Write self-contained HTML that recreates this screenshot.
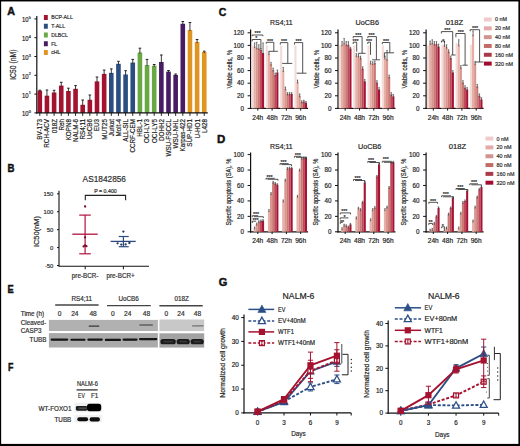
<!DOCTYPE html>
<html><head><meta charset="utf-8"><style>
html,body{margin:0;padding:0;background:#fff;}
#c{position:relative;width:520px;height:446px;overflow:hidden;background:#fff;}
svg{position:absolute;left:0;top:0;font-family:"Liberation Sans", sans-serif;}
text{stroke:#222;stroke-width:0.18px;}
#b{position:absolute;left:0;top:0;width:520px;height:446px;box-sizing:border-box;border-style:solid;border-color:#000;border-width:1px 1.6px 2px 1.1px;}
</style></head><body><div id="c">
<svg width="520" height="446" viewBox="0 0 520 446">
<defs><filter id="bl" x="-20%" y="-100%" width="140%" height="300%"><feGaussianBlur stdDeviation="0.4"/></filter><filter id="bl2" x="-20%" y="-100%" width="140%" height="300%"><feGaussianBlur stdDeviation="0.55"/></filter></defs>
<text x="7.30" y="15.40" text-anchor="start" fill="#111" style="font-size:10.9px;font-weight:bold;stroke-width:0.45px;stroke:#111;"  textLength="7.7" lengthAdjust="spacingAndGlyphs">A</text>
<line x1="36.80" y1="16.00" x2="36.80" y2="113.40" stroke="#111" stroke-width="1.2"/>
<line x1="34.40" y1="112.90" x2="36.80" y2="112.90" stroke="#111" stroke-width="1"/>
<text x="21.90" y="116.30" text-anchor="start" fill="#222" style="font-size:6.6px;"  textLength="6.6" lengthAdjust="spacingAndGlyphs">10</text>
<text x="28.70" y="113.00" text-anchor="start" fill="#222" style="font-size:3.9px;" >0</text>
<line x1="34.40" y1="94.10" x2="36.80" y2="94.10" stroke="#111" stroke-width="1"/>
<text x="21.90" y="97.50" text-anchor="start" fill="#222" style="font-size:6.6px;"  textLength="6.6" lengthAdjust="spacingAndGlyphs">10</text>
<text x="28.70" y="94.20" text-anchor="start" fill="#222" style="font-size:3.9px;" >1</text>
<line x1="34.40" y1="75.30" x2="36.80" y2="75.30" stroke="#111" stroke-width="1"/>
<text x="21.90" y="78.70" text-anchor="start" fill="#222" style="font-size:6.6px;"  textLength="6.6" lengthAdjust="spacingAndGlyphs">10</text>
<text x="28.70" y="75.40" text-anchor="start" fill="#222" style="font-size:3.9px;" >2</text>
<line x1="34.40" y1="56.50" x2="36.80" y2="56.50" stroke="#111" stroke-width="1"/>
<text x="21.90" y="59.90" text-anchor="start" fill="#222" style="font-size:6.6px;"  textLength="6.6" lengthAdjust="spacingAndGlyphs">10</text>
<text x="28.70" y="56.60" text-anchor="start" fill="#222" style="font-size:3.9px;" >3</text>
<line x1="34.40" y1="37.70" x2="36.80" y2="37.70" stroke="#111" stroke-width="1"/>
<text x="21.90" y="41.10" text-anchor="start" fill="#222" style="font-size:6.6px;"  textLength="6.6" lengthAdjust="spacingAndGlyphs">10</text>
<text x="28.70" y="37.80" text-anchor="start" fill="#222" style="font-size:3.9px;" >4</text>
<line x1="34.40" y1="18.90" x2="36.80" y2="18.90" stroke="#111" stroke-width="1"/>
<text x="21.90" y="22.30" text-anchor="start" fill="#222" style="font-size:6.6px;"  textLength="6.6" lengthAdjust="spacingAndGlyphs">10</text>
<text x="28.70" y="19.00" text-anchor="start" fill="#222" style="font-size:3.9px;" >5</text>
<text transform="translate(16.10,64.70) rotate(-90)" text-anchor="middle" fill="#222" style="font-size:8.3px;"  textLength="30.3" lengthAdjust="spacingAndGlyphs">IC50 (nM)</text>
<rect x="43.90" y="15.00" width="3.90" height="5.00" fill="#a3132f" />
<text x="51.20" y="19.40" text-anchor="start" fill="#333" style="font-size:5.2px;" >BCP-ALL</text>
<rect x="43.90" y="23.75" width="3.90" height="5.00" fill="#2b4e80" />
<text x="51.20" y="28.15" text-anchor="start" fill="#333" style="font-size:5.2px;" >T-ALL</text>
<rect x="43.90" y="32.50" width="3.90" height="5.00" fill="#6aa845" />
<text x="51.20" y="36.90" text-anchor="start" fill="#333" style="font-size:5.2px;" >DLBCL</text>
<rect x="43.90" y="41.25" width="3.90" height="5.00" fill="#481c62" />
<text x="51.20" y="45.65" text-anchor="start" fill="#333" style="font-size:5.2px;" >FL</text>
<rect x="43.90" y="50.00" width="3.90" height="5.00" fill="#df951f" />
<text x="51.20" y="54.40" text-anchor="start" fill="#333" style="font-size:5.2px;" >cHL</text>
<rect x="37.50" y="90.70" width="4.60" height="22.20" fill="#a3132f" />
<line x1="39.80" y1="91.70" x2="39.80" y2="90.20" stroke="#222" stroke-width="0.9"/>
<line x1="38.50" y1="90.20" x2="41.10" y2="90.20" stroke="#222" stroke-width="1.0"/>
<line x1="39.80" y1="112.90" x2="39.80" y2="115.90" stroke="#111" stroke-width="0.9"/>
<text transform="translate(42.20,119.00) rotate(-90)" text-anchor="end" fill="#222" style="font-size:6.3px;" >BV-173</text>
<rect x="44.65" y="95.70" width="4.60" height="17.20" fill="#a3132f" />
<line x1="46.95" y1="96.70" x2="46.95" y2="90.00" stroke="#222" stroke-width="0.9"/>
<line x1="45.65" y1="90.00" x2="48.25" y2="90.00" stroke="#222" stroke-width="1.0"/>
<line x1="46.95" y1="112.90" x2="46.95" y2="115.90" stroke="#111" stroke-width="0.9"/>
<text transform="translate(49.35,119.00) rotate(-90)" text-anchor="end" fill="#222" style="font-size:6.3px;" >RCH-ACV</text>
<rect x="51.80" y="92.50" width="4.60" height="20.40" fill="#a3132f" />
<line x1="54.10" y1="93.50" x2="54.10" y2="90.30" stroke="#222" stroke-width="0.9"/>
<line x1="52.80" y1="90.30" x2="55.40" y2="90.30" stroke="#222" stroke-width="1.0"/>
<line x1="54.10" y1="112.90" x2="54.10" y2="115.90" stroke="#111" stroke-width="0.9"/>
<text transform="translate(56.50,119.00) rotate(-90)" text-anchor="end" fill="#222" style="font-size:6.3px;" >018Z</text>
<rect x="58.95" y="85.60" width="4.60" height="27.30" fill="#a3132f" />
<line x1="61.25" y1="86.60" x2="61.25" y2="82.30" stroke="#222" stroke-width="0.9"/>
<line x1="59.95" y1="82.30" x2="62.55" y2="82.30" stroke="#222" stroke-width="1.0"/>
<line x1="61.25" y1="112.90" x2="61.25" y2="115.90" stroke="#111" stroke-width="0.9"/>
<text transform="translate(63.65,119.00) rotate(-90)" text-anchor="end" fill="#222" style="font-size:6.3px;" >Reh</text>
<rect x="66.10" y="91.00" width="4.60" height="21.90" fill="#a3132f" />
<line x1="68.40" y1="92.00" x2="68.40" y2="88.20" stroke="#222" stroke-width="0.9"/>
<line x1="67.10" y1="88.20" x2="69.70" y2="88.20" stroke="#222" stroke-width="1.0"/>
<line x1="68.40" y1="112.90" x2="68.40" y2="115.90" stroke="#111" stroke-width="0.9"/>
<text transform="translate(70.80,119.00) rotate(-90)" text-anchor="end" fill="#222" style="font-size:6.3px;" >KOPN8</text>
<rect x="73.25" y="88.80" width="4.60" height="24.10" fill="#a3132f" />
<line x1="75.55" y1="89.80" x2="75.55" y2="85.60" stroke="#222" stroke-width="0.9"/>
<line x1="74.25" y1="85.60" x2="76.85" y2="85.60" stroke="#222" stroke-width="1.0"/>
<line x1="75.55" y1="112.90" x2="75.55" y2="115.90" stroke="#111" stroke-width="0.9"/>
<text transform="translate(77.95,119.00) rotate(-90)" text-anchor="end" fill="#222" style="font-size:6.3px;" >NALM-6</text>
<rect x="80.40" y="104.80" width="4.60" height="8.10" fill="#a3132f" />
<line x1="82.70" y1="105.80" x2="82.70" y2="100.00" stroke="#222" stroke-width="0.9"/>
<line x1="81.40" y1="100.00" x2="84.00" y2="100.00" stroke="#222" stroke-width="1.0"/>
<line x1="82.70" y1="112.90" x2="82.70" y2="115.90" stroke="#111" stroke-width="0.9"/>
<text transform="translate(85.10,119.00) rotate(-90)" text-anchor="end" fill="#222" style="font-size:6.3px;" >RS4;11</text>
<rect x="87.55" y="99.80" width="4.60" height="13.10" fill="#a3132f" />
<line x1="89.85" y1="100.80" x2="89.85" y2="95.00" stroke="#222" stroke-width="0.9"/>
<line x1="88.55" y1="95.00" x2="91.15" y2="95.00" stroke="#222" stroke-width="1.0"/>
<line x1="89.85" y1="112.90" x2="89.85" y2="115.90" stroke="#111" stroke-width="0.9"/>
<text transform="translate(92.25,119.00) rotate(-90)" text-anchor="end" fill="#222" style="font-size:6.3px;" >UoCB6</text>
<rect x="94.70" y="81.40" width="4.60" height="31.50" fill="#a3132f" />
<line x1="97.00" y1="82.40" x2="97.00" y2="77.00" stroke="#222" stroke-width="0.9"/>
<line x1="95.70" y1="77.00" x2="98.30" y2="77.00" stroke="#222" stroke-width="1.0"/>
<line x1="97.00" y1="112.90" x2="97.00" y2="115.90" stroke="#111" stroke-width="0.9"/>
<text transform="translate(99.40,119.00) rotate(-90)" text-anchor="end" fill="#222" style="font-size:6.3px;" >EU3</text>
<rect x="101.85" y="73.90" width="4.60" height="39.00" fill="#a3132f" />
<line x1="104.15" y1="74.90" x2="104.15" y2="70.10" stroke="#222" stroke-width="0.9"/>
<line x1="102.85" y1="70.10" x2="105.45" y2="70.10" stroke="#222" stroke-width="1.0"/>
<line x1="104.15" y1="112.90" x2="104.15" y2="115.90" stroke="#111" stroke-width="0.9"/>
<text transform="translate(106.55,119.00) rotate(-90)" text-anchor="end" fill="#222" style="font-size:6.3px;" >MUT25</text>
<rect x="109.00" y="72.90" width="4.60" height="40.00" fill="#2b4e80" />
<line x1="111.30" y1="73.90" x2="111.30" y2="68.90" stroke="#222" stroke-width="0.9"/>
<line x1="110.00" y1="68.90" x2="112.60" y2="68.90" stroke="#222" stroke-width="1.0"/>
<line x1="111.30" y1="112.90" x2="111.30" y2="115.90" stroke="#111" stroke-width="0.9"/>
<text transform="translate(113.70,119.00) rotate(-90)" text-anchor="end" fill="#222" style="font-size:6.3px;" >Jurkat</text>
<rect x="116.15" y="63.80" width="4.60" height="49.10" fill="#2b4e80" />
<line x1="118.45" y1="64.80" x2="118.45" y2="61.30" stroke="#222" stroke-width="0.9"/>
<line x1="117.15" y1="61.30" x2="119.75" y2="61.30" stroke="#222" stroke-width="1.0"/>
<line x1="118.45" y1="112.90" x2="118.45" y2="115.90" stroke="#111" stroke-width="0.9"/>
<text transform="translate(120.85,119.00) rotate(-90)" text-anchor="end" fill="#222" style="font-size:6.3px;" >Molt-4</text>
<rect x="123.30" y="74.50" width="4.60" height="38.40" fill="#2b4e80" />
<line x1="125.60" y1="75.50" x2="125.60" y2="70.70" stroke="#222" stroke-width="0.9"/>
<line x1="124.30" y1="70.70" x2="126.90" y2="70.70" stroke="#222" stroke-width="1.0"/>
<line x1="125.60" y1="112.90" x2="125.60" y2="115.90" stroke="#111" stroke-width="0.9"/>
<text transform="translate(128.00,119.00) rotate(-90)" text-anchor="end" fill="#222" style="font-size:6.3px;" >ALL-SIL</text>
<rect x="130.45" y="62.60" width="4.60" height="50.30" fill="#2b4e80" />
<line x1="132.75" y1="63.60" x2="132.75" y2="59.40" stroke="#222" stroke-width="0.9"/>
<line x1="131.45" y1="59.40" x2="134.05" y2="59.40" stroke="#222" stroke-width="1.0"/>
<line x1="132.75" y1="112.90" x2="132.75" y2="115.90" stroke="#111" stroke-width="0.9"/>
<text transform="translate(135.15,119.00) rotate(-90)" text-anchor="end" fill="#222" style="font-size:6.3px;" >CCRF-CEM</text>
<rect x="137.60" y="52.50" width="4.60" height="60.40" fill="#6aa845" />
<line x1="139.90" y1="53.50" x2="139.90" y2="48.20" stroke="#222" stroke-width="0.9"/>
<line x1="138.60" y1="48.20" x2="141.20" y2="48.20" stroke="#222" stroke-width="1.0"/>
<line x1="139.90" y1="112.90" x2="139.90" y2="115.90" stroke="#111" stroke-width="0.9"/>
<text transform="translate(142.30,119.00) rotate(-90)" text-anchor="end" fill="#222" style="font-size:6.3px;" >HBL-1</text>
<rect x="144.75" y="65.10" width="4.60" height="47.80" fill="#6aa845" />
<line x1="147.05" y1="66.10" x2="147.05" y2="59.40" stroke="#222" stroke-width="0.9"/>
<line x1="145.75" y1="59.40" x2="148.35" y2="59.40" stroke="#222" stroke-width="1.0"/>
<line x1="147.05" y1="112.90" x2="147.05" y2="115.90" stroke="#111" stroke-width="0.9"/>
<text transform="translate(149.45,119.00) rotate(-90)" text-anchor="end" fill="#222" style="font-size:6.3px;" >OCI-LY3</text>
<rect x="151.90" y="65.70" width="4.60" height="47.20" fill="#6aa845" />
<line x1="154.20" y1="66.70" x2="154.20" y2="64.50" stroke="#222" stroke-width="0.9"/>
<line x1="152.90" y1="64.50" x2="155.50" y2="64.50" stroke="#222" stroke-width="1.0"/>
<line x1="154.20" y1="112.90" x2="154.20" y2="115.90" stroke="#111" stroke-width="0.9"/>
<text transform="translate(156.60,119.00) rotate(-90)" text-anchor="end" fill="#222" style="font-size:6.3px;" >OCI-LY5</text>
<rect x="159.05" y="62.00" width="4.60" height="50.90" fill="#481c62" />
<line x1="161.35" y1="63.00" x2="161.35" y2="55.00" stroke="#222" stroke-width="0.9"/>
<line x1="160.05" y1="55.00" x2="162.65" y2="55.00" stroke="#222" stroke-width="1.0"/>
<line x1="161.35" y1="112.90" x2="161.35" y2="115.90" stroke="#111" stroke-width="0.9"/>
<text transform="translate(163.75,119.00) rotate(-90)" text-anchor="end" fill="#222" style="font-size:6.3px;" >DOHH2</text>
<rect x="166.20" y="71.60" width="4.60" height="41.30" fill="#481c62" />
<line x1="168.50" y1="72.60" x2="168.50" y2="70.50" stroke="#222" stroke-width="0.9"/>
<line x1="167.20" y1="70.50" x2="169.80" y2="70.50" stroke="#222" stroke-width="1.0"/>
<line x1="168.50" y1="112.90" x2="168.50" y2="115.90" stroke="#111" stroke-width="0.9"/>
<text transform="translate(170.90,119.00) rotate(-90)" text-anchor="end" fill="#222" style="font-size:6.3px;" >WSU-FSCCL</text>
<rect x="173.35" y="74.90" width="4.60" height="38.00" fill="#481c62" />
<line x1="175.65" y1="75.90" x2="175.65" y2="74.00" stroke="#222" stroke-width="0.9"/>
<line x1="174.35" y1="74.00" x2="176.95" y2="74.00" stroke="#222" stroke-width="1.0"/>
<line x1="175.65" y1="112.90" x2="175.65" y2="115.90" stroke="#111" stroke-width="0.9"/>
<text transform="translate(178.05,119.00) rotate(-90)" text-anchor="end" fill="#222" style="font-size:6.3px;" >WSU-NHL</text>
<rect x="180.50" y="23.80" width="4.60" height="89.10" fill="#481c62" />
<line x1="182.80" y1="24.80" x2="182.80" y2="21.50" stroke="#222" stroke-width="0.9"/>
<line x1="181.50" y1="21.50" x2="184.10" y2="21.50" stroke="#222" stroke-width="1.0"/>
<line x1="182.80" y1="112.90" x2="182.80" y2="115.90" stroke="#111" stroke-width="0.9"/>
<text transform="translate(185.20,119.00) rotate(-90)" text-anchor="end" fill="#222" style="font-size:6.3px;" >Karpas-422</text>
<rect x="187.65" y="30.00" width="4.60" height="82.90" fill="#df951f" />
<line x1="189.95" y1="31.00" x2="189.95" y2="22.50" stroke="#222" stroke-width="0.9"/>
<line x1="188.65" y1="22.50" x2="191.25" y2="22.50" stroke="#222" stroke-width="1.0"/>
<line x1="189.95" y1="112.90" x2="189.95" y2="115.90" stroke="#111" stroke-width="0.9"/>
<text transform="translate(192.35,119.00) rotate(-90)" text-anchor="end" fill="#222" style="font-size:6.3px;" >SUP-HD1</text>
<rect x="194.80" y="42.00" width="4.60" height="70.90" fill="#df951f" />
<line x1="197.10" y1="43.00" x2="197.10" y2="39.50" stroke="#222" stroke-width="0.9"/>
<line x1="195.80" y1="39.50" x2="198.40" y2="39.50" stroke="#222" stroke-width="1.0"/>
<line x1="197.10" y1="112.90" x2="197.10" y2="115.90" stroke="#111" stroke-width="0.9"/>
<text transform="translate(199.50,119.00) rotate(-90)" text-anchor="end" fill="#222" style="font-size:6.3px;" >U-HO1</text>
<rect x="201.95" y="52.00" width="4.60" height="60.90" fill="#df951f" />
<line x1="204.25" y1="53.00" x2="204.25" y2="51.20" stroke="#222" stroke-width="0.9"/>
<line x1="202.95" y1="51.20" x2="205.55" y2="51.20" stroke="#222" stroke-width="1.0"/>
<line x1="204.25" y1="112.90" x2="204.25" y2="115.90" stroke="#111" stroke-width="0.9"/>
<text transform="translate(206.65,119.00) rotate(-90)" text-anchor="end" fill="#222" style="font-size:6.3px;" >L428</text>
<line x1="36.00" y1="112.90" x2="207.80" y2="112.90" stroke="#111" stroke-width="1.2"/>
<text x="7.40" y="171.50" text-anchor="start" fill="#111" style="font-size:10.9px;font-weight:bold;stroke-width:0.45px;stroke:#111;"  textLength="7.0" lengthAdjust="spacingAndGlyphs">B</text>
<text x="104.30" y="182.20" text-anchor="middle" fill="#333" style="font-size:8.3px;" >AS1842856</text>
<line x1="59.00" y1="190.70" x2="59.00" y2="266.30" stroke="#111" stroke-width="1.1"/>
<line x1="57.00" y1="193.79" x2="59.00" y2="193.79" stroke="#111" stroke-width="1"/>
<text x="53.40" y="195.89" text-anchor="end" fill="#333" style="font-size:5.9px;" >150</text>
<line x1="57.00" y1="211.73" x2="59.00" y2="211.73" stroke="#111" stroke-width="1"/>
<text x="53.40" y="213.83" text-anchor="end" fill="#333" style="font-size:5.9px;" >100</text>
<line x1="57.00" y1="229.66" x2="59.00" y2="229.66" stroke="#111" stroke-width="1"/>
<text x="53.40" y="231.76" text-anchor="end" fill="#333" style="font-size:5.9px;" >50</text>
<line x1="57.00" y1="247.60" x2="59.00" y2="247.60" stroke="#111" stroke-width="1"/>
<text x="53.40" y="249.70" text-anchor="end" fill="#333" style="font-size:5.9px;" >0</text>
<line x1="57.00" y1="265.53" x2="59.00" y2="265.53" stroke="#111" stroke-width="1"/>
<text x="53.40" y="267.63" text-anchor="end" fill="#333" style="font-size:5.9px;" >-50</text>
<text transform="translate(38.80,231.60) rotate(-90)" text-anchor="middle" fill="#222" style="font-size:7.4px;"  textLength="31.0" lengthAdjust="spacingAndGlyphs">IC50(nM)</text>
<line x1="58.50" y1="266.30" x2="149.00" y2="266.30" stroke="#111" stroke-width="1.1"/>
<line x1="85.20" y1="266.30" x2="85.20" y2="269.30" stroke="#111" stroke-width="1"/>
<line x1="123.40" y1="266.30" x2="123.40" y2="269.30" stroke="#111" stroke-width="1"/>
<text x="85.10" y="278.40" text-anchor="middle" fill="#333" style="font-size:6.3px;" >pre-BCR-</text>
<text x="120.60" y="278.40" text-anchor="middle" fill="#333" style="font-size:6.3px;" >pre-BCR+</text>
<polyline points="85.30,200.20 85.30,195.40 125.60,195.40 125.60,200.20" fill="none" stroke="#222" stroke-width="1.1"/>
<text x="105.50" y="193.10" text-anchor="middle" fill="#333" style="font-size:5.0px;"  textLength="22.5" lengthAdjust="spacingAndGlyphs">P = 0.400</text>
<line x1="85.10" y1="215.10" x2="85.10" y2="253.80" stroke="#b0123e" stroke-width="1.2"/>
<line x1="79.20" y1="215.10" x2="90.80" y2="215.10" stroke="#b0123e" stroke-width="1.2"/>
<line x1="79.20" y1="253.80" x2="90.80" y2="253.80" stroke="#b0123e" stroke-width="1.2"/>
<line x1="72.30" y1="234.20" x2="97.70" y2="234.20" stroke="#b0123e" stroke-width="1.3"/>
<circle cx="85.1" cy="206.5" r="1.15" fill="#7a0a26"/>
<circle cx="85.1" cy="237.3" r="1.15" fill="#7a0a26"/>
<circle cx="83.6" cy="246.4" r="1.15" fill="#7a0a26"/>
<circle cx="86.4" cy="246.2" r="1.15" fill="#7a0a26"/>
<circle cx="85.0" cy="245.4" r="1.15" fill="#7a0a26"/>
<line x1="123.40" y1="236.50" x2="123.40" y2="246.70" stroke="#2c4a80" stroke-width="1.2"/>
<line x1="118.70" y1="236.50" x2="128.70" y2="236.50" stroke="#2c4a80" stroke-width="1.2"/>
<line x1="118.70" y1="246.70" x2="128.70" y2="246.70" stroke="#2c4a80" stroke-width="1.2"/>
<line x1="110.60" y1="241.40" x2="135.70" y2="241.40" stroke="#2c4a80" stroke-width="1.3"/>
<circle cx="123.4" cy="231.6" r="1.15" fill="#1e3560"/>
<circle cx="117.6" cy="243.3" r="1.15" fill="#1e3560"/>
<circle cx="121.3" cy="244.6" r="1.15" fill="#1e3560"/>
<circle cx="125.6" cy="244.4" r="1.15" fill="#1e3560"/>
<circle cx="129.4" cy="243.0" r="1.15" fill="#1e3560"/>
<text x="7.60" y="292.50" text-anchor="start" fill="#111" style="font-size:10.9px;font-weight:bold;stroke-width:0.45px;stroke:#111;"  textLength="6.2" lengthAdjust="spacingAndGlyphs">E</text>
<text x="81.80" y="301.20" text-anchor="middle" fill="#333" style="font-size:6.3px;" >RS4;11</text>
<text x="128.60" y="301.20" text-anchor="middle" fill="#333" style="font-size:6.3px;" >UoCB6</text>
<text x="181.70" y="301.20" text-anchor="middle" fill="#333" style="font-size:6.3px;" >018Z</text>
<line x1="55.20" y1="305.00" x2="98.60" y2="305.00" stroke="#444" stroke-width="1.4"/>
<line x1="107.00" y1="305.60" x2="150.80" y2="305.60" stroke="#444" stroke-width="1.4"/>
<line x1="159.40" y1="305.70" x2="202.70" y2="305.70" stroke="#444" stroke-width="1.4"/>
<text x="20.80" y="315.80" text-anchor="start" fill="#333" style="font-size:6.3px;" >Time (h)</text>
<text x="59.70" y="315.50" text-anchor="middle" fill="#333" style="font-size:6.6px;" >0</text>
<text x="74.80" y="315.50" text-anchor="middle" fill="#333" style="font-size:6.6px;" >24</text>
<text x="93.10" y="315.50" text-anchor="middle" fill="#333" style="font-size:6.6px;" >48</text>
<text x="112.80" y="315.50" text-anchor="middle" fill="#333" style="font-size:6.6px;" >0</text>
<text x="127.70" y="315.50" text-anchor="middle" fill="#333" style="font-size:6.6px;" >24</text>
<text x="146.40" y="315.50" text-anchor="middle" fill="#333" style="font-size:6.6px;" >48</text>
<text x="166.30" y="315.50" text-anchor="middle" fill="#333" style="font-size:6.6px;" >0</text>
<text x="181.00" y="315.50" text-anchor="middle" fill="#333" style="font-size:6.6px;" >24</text>
<text x="197.50" y="315.50" text-anchor="middle" fill="#333" style="font-size:6.6px;" >48</text>
<text x="20.80" y="325.20" text-anchor="start" fill="#333" style="font-size:6.3px;" >Cleaved-</text>
<text x="20.80" y="333.00" text-anchor="start" fill="#333" style="font-size:6.3px;" >CASP3</text>
<text x="46.40" y="342.40" text-anchor="end" fill="#333" style="font-size:6.3px;" >TUBB</text>
<rect x="48.90" y="319.90" width="109.00" height="11.10" fill="#b1b1b1" />
<rect x="159.40" y="319.50" width="44.80" height="11.60" fill="#c8c8c8" />
<rect x="48.90" y="333.10" width="109.00" height="14.40" fill="#aaaaaa" />
<rect x="159.40" y="333.30" width="44.80" height="14.30" fill="#a2a2a2" />
<rect x="88.6" y="325.59999999999997" width="10.800000000000011" height="1.2" rx="0.6" fill="#1c1c1c" opacity="0.8" filter="url(#bl)"/>
<rect x="139.3" y="324.4" width="13.699999999999989" height="1.2" rx="0.6" fill="#1c1c1c" opacity="0.8" filter="url(#bl)"/>
<rect x="192.0" y="325.29999999999995" width="11.599999999999994" height="1.2" rx="0.6" fill="#1c1c1c" opacity="0.5" filter="url(#bl)"/>
<rect x="50.6" y="338.55" width="17.70" height="2.1" rx="1.05" fill="#121212" filter="url(#bl)"/>
<rect x="70.3" y="338.65" width="15.30" height="2.1" rx="1.05" fill="#121212" filter="url(#bl)"/>
<rect x="87.3" y="338.55" width="15.50" height="2.1" rx="1.05" fill="#121212" filter="url(#bl)"/>
<rect x="104.8" y="338.85" width="16.20" height="2.1" rx="1.05" fill="#121212" filter="url(#bl)"/>
<rect x="122.5" y="338.55" width="15.10" height="2.1" rx="1.05" fill="#121212" filter="url(#bl)"/>
<rect x="139.0" y="338.05" width="18.30" height="2.1" rx="1.05" fill="#121212" filter="url(#bl)"/>
<rect x="160.4" y="338.9" width="15.40" height="5.4" rx="2.6" fill="#1a1a1a" filter="url(#bl2)"/>
<rect x="163.4" y="340.9" width="9.40" height="1.4" fill="#3a3a3a" filter="url(#bl)"/>
<rect x="176.6" y="338.9" width="13.20" height="5.4" rx="2.6" fill="#1a1a1a" filter="url(#bl2)"/>
<rect x="179.6" y="340.9" width="7.20" height="1.4" fill="#3a3a3a" filter="url(#bl)"/>
<rect x="190.6" y="338.9" width="13.20" height="5.4" rx="2.6" fill="#1a1a1a" filter="url(#bl2)"/>
<rect x="193.6" y="340.9" width="7.20" height="1.4" fill="#3a3a3a" filter="url(#bl)"/>
<text x="7.90" y="371.20" text-anchor="start" fill="#111" style="font-size:10.9px;font-weight:bold;stroke-width:0.45px;stroke:#111;"  textLength="5.4" lengthAdjust="spacingAndGlyphs">F</text>
<text x="87.40" y="386.30" text-anchor="middle" fill="#333" style="font-size:6.3px;"  textLength="20.8" lengthAdjust="spacingAndGlyphs">NALM-6</text>
<line x1="76.60" y1="389.90" x2="97.70" y2="389.90" stroke="#444" stroke-width="1.4"/>
<text x="81.40" y="398.40" text-anchor="middle" fill="#333" style="font-size:6.3px;"  textLength="6.6" lengthAdjust="spacingAndGlyphs">EV</text>
<text x="94.60" y="398.40" text-anchor="middle" fill="#333" style="font-size:6.3px;" >F1</text>
<text x="71.50" y="410.60" text-anchor="end" fill="#333" style="font-size:6.3px;" >WT-FOXO1</text>
<text x="71.30" y="421.60" text-anchor="end" fill="#333" style="font-size:6.3px;" >TUBB</text>
<rect x="74.50" y="402.80" width="27.40" height="9.40" fill="#efefef" />
<rect x="74.50" y="414.90" width="27.40" height="7.60" fill="#f0f0f0" />
<rect x="75.9" y="405.9" width="11.4" height="4.8" rx="1.4" fill="#1e1e1e" filter="url(#bl)"/>
<rect x="78.5" y="407.4" width="8.4" height="1.8" fill="#4c4c4c" filter="url(#bl)"/>
<rect x="87.0" y="403.8" width="14.2" height="7.4" rx="2.6" fill="#050505" filter="url(#bl)"/>
<rect x="77.3" y="417.3" width="10.8" height="3.9" rx="1.9" fill="#0a0a0a" filter="url(#bl)"/>
<rect x="89.6" y="417.3" width="10.3" height="4.1" rx="1.9" fill="#0a0a0a" filter="url(#bl)"/>
<text x="218.70" y="15.80" text-anchor="start" fill="#111" style="font-size:10.9px;font-weight:bold;stroke-width:0.45px;stroke:#111;"  textLength="7.6" lengthAdjust="spacingAndGlyphs">C</text>
<text x="217.10" y="142.90" text-anchor="start" fill="#111" style="font-size:10.9px;font-weight:bold;stroke-width:0.45px;stroke:#111;"  textLength="8.3" lengthAdjust="spacingAndGlyphs">D</text>
<text x="281.40" y="25.40" text-anchor="middle" fill="#222" style="font-size:7.3px;"  textLength="22.6" lengthAdjust="spacingAndGlyphs">RS4;11</text>
<line x1="250.60" y1="29.50" x2="250.60" y2="109.00" stroke="#111" stroke-width="1.2"/>
<line x1="247.60" y1="108.40" x2="250.60" y2="108.40" stroke="#111" stroke-width="1"/>
<text x="244.00" y="110.60" text-anchor="end" fill="#222" style="font-size:6.3px;" >0</text>
<line x1="247.60" y1="95.80" x2="250.60" y2="95.80" stroke="#111" stroke-width="1"/>
<text x="244.00" y="98.00" text-anchor="end" fill="#222" style="font-size:6.3px;" >20</text>
<line x1="247.60" y1="83.20" x2="250.60" y2="83.20" stroke="#111" stroke-width="1"/>
<text x="244.00" y="85.40" text-anchor="end" fill="#222" style="font-size:6.3px;" >40</text>
<line x1="247.60" y1="70.60" x2="250.60" y2="70.60" stroke="#111" stroke-width="1"/>
<text x="244.00" y="72.80" text-anchor="end" fill="#222" style="font-size:6.3px;" >60</text>
<line x1="247.60" y1="58.00" x2="250.60" y2="58.00" stroke="#111" stroke-width="1"/>
<text x="244.00" y="60.20" text-anchor="end" fill="#222" style="font-size:6.3px;" >80</text>
<line x1="247.60" y1="45.40" x2="250.60" y2="45.40" stroke="#111" stroke-width="1"/>
<text x="244.00" y="47.60" text-anchor="end" fill="#222" style="font-size:6.3px;" >100</text>
<line x1="247.60" y1="32.80" x2="250.60" y2="32.80" stroke="#111" stroke-width="1"/>
<text x="244.00" y="35.00" text-anchor="end" fill="#222" style="font-size:6.3px;" >120</text>
<text transform="translate(231.70,69.30) rotate(-90)" text-anchor="middle" fill="#222" style="font-size:7.0px;"  textLength="38.5" lengthAdjust="spacingAndGlyphs">Viable cells, %</text>
<line x1="250.00" y1="108.40" x2="308.10" y2="108.40" stroke="#111" stroke-width="1.2"/>
<rect x="251.50" y="45.40" width="2.10" height="63.00" fill="#f3dcd7" />
<rect x="253.60" y="46.66" width="2.10" height="61.74" fill="#e6b0a6" />
<line x1="254.65" y1="48.16" x2="254.65" y2="42.88" stroke="#444" stroke-width="0.8"/>
<line x1="253.90" y1="42.88" x2="255.40" y2="42.88" stroke="#444" stroke-width="0.6"/>
<rect x="255.70" y="47.92" width="2.10" height="60.48" fill="#da968e" />
<line x1="256.75" y1="49.42" x2="256.75" y2="42.25" stroke="#444" stroke-width="0.8"/>
<line x1="256.00" y1="42.25" x2="257.50" y2="42.25" stroke="#444" stroke-width="0.6"/>
<rect x="257.80" y="48.55" width="2.10" height="59.85" fill="#c97a74" />
<line x1="258.85" y1="50.05" x2="258.85" y2="44.77" stroke="#444" stroke-width="0.8"/>
<line x1="258.10" y1="44.77" x2="259.60" y2="44.77" stroke="#444" stroke-width="0.6"/>
<rect x="259.90" y="49.81" width="2.10" height="58.59" fill="#bf4a5a" />
<line x1="260.95" y1="51.31" x2="260.95" y2="48.55" stroke="#444" stroke-width="0.8"/>
<line x1="260.20" y1="48.55" x2="261.70" y2="48.55" stroke="#444" stroke-width="0.6"/>
<rect x="262.00" y="52.96" width="2.10" height="55.44" fill="#a51435" />
<line x1="263.05" y1="54.46" x2="263.05" y2="42.88" stroke="#444" stroke-width="0.8"/>
<line x1="262.30" y1="42.88" x2="263.80" y2="42.88" stroke="#444" stroke-width="0.6"/>
<line x1="257.80" y1="108.40" x2="257.80" y2="110.60" stroke="#111" stroke-width="1"/>
<text x="257.80" y="120.10" text-anchor="middle" fill="#222" style="font-size:6.6px;" >24h</text>
<rect x="265.80" y="45.40" width="2.10" height="63.00" fill="#f3dcd7" />
<rect x="267.90" y="53.59" width="2.10" height="54.81" fill="#e6b0a6" />
<line x1="268.95" y1="55.09" x2="268.95" y2="51.70" stroke="#444" stroke-width="0.8"/>
<line x1="268.20" y1="51.70" x2="269.70" y2="51.70" stroke="#444" stroke-width="0.6"/>
<rect x="270.00" y="64.30" width="2.10" height="44.10" fill="#da968e" />
<line x1="271.05" y1="65.80" x2="271.05" y2="62.41" stroke="#444" stroke-width="0.8"/>
<line x1="270.30" y1="62.41" x2="271.80" y2="62.41" stroke="#444" stroke-width="0.6"/>
<rect x="272.10" y="69.97" width="2.10" height="38.43" fill="#c97a74" />
<line x1="273.15" y1="71.47" x2="273.15" y2="68.08" stroke="#444" stroke-width="0.8"/>
<line x1="272.40" y1="68.08" x2="273.90" y2="68.08" stroke="#444" stroke-width="0.6"/>
<rect x="274.20" y="75.01" width="2.10" height="33.39" fill="#bf4a5a" />
<line x1="275.25" y1="76.51" x2="275.25" y2="73.12" stroke="#444" stroke-width="0.8"/>
<line x1="274.50" y1="73.12" x2="276.00" y2="73.12" stroke="#444" stroke-width="0.6"/>
<rect x="276.30" y="72.49" width="2.10" height="35.91" fill="#a51435" />
<line x1="277.35" y1="73.99" x2="277.35" y2="69.97" stroke="#444" stroke-width="0.8"/>
<line x1="276.60" y1="69.97" x2="278.10" y2="69.97" stroke="#444" stroke-width="0.6"/>
<line x1="272.10" y1="108.40" x2="272.10" y2="110.60" stroke="#111" stroke-width="1"/>
<text x="272.10" y="120.10" text-anchor="middle" fill="#222" style="font-size:6.6px;" >48h</text>
<rect x="280.10" y="45.40" width="2.10" height="63.00" fill="#f3dcd7" />
<rect x="282.20" y="70.60" width="2.10" height="37.80" fill="#e6b0a6" />
<line x1="283.25" y1="72.10" x2="283.25" y2="67.45" stroke="#444" stroke-width="0.8"/>
<line x1="282.50" y1="67.45" x2="284.00" y2="67.45" stroke="#444" stroke-width="0.6"/>
<rect x="284.30" y="88.87" width="2.10" height="19.53" fill="#da968e" />
<line x1="285.35" y1="90.37" x2="285.35" y2="86.98" stroke="#444" stroke-width="0.8"/>
<line x1="284.60" y1="86.98" x2="286.10" y2="86.98" stroke="#444" stroke-width="0.6"/>
<rect x="286.40" y="93.91" width="2.10" height="14.49" fill="#c97a74" />
<line x1="287.45" y1="95.41" x2="287.45" y2="92.65" stroke="#444" stroke-width="0.8"/>
<line x1="286.70" y1="92.65" x2="288.20" y2="92.65" stroke="#444" stroke-width="0.6"/>
<rect x="288.50" y="93.91" width="2.10" height="14.49" fill="#bf4a5a" />
<line x1="289.55" y1="95.41" x2="289.55" y2="92.65" stroke="#444" stroke-width="0.8"/>
<line x1="288.80" y1="92.65" x2="290.30" y2="92.65" stroke="#444" stroke-width="0.6"/>
<rect x="290.60" y="93.91" width="2.10" height="14.49" fill="#a51435" />
<line x1="291.65" y1="95.41" x2="291.65" y2="92.65" stroke="#444" stroke-width="0.8"/>
<line x1="290.90" y1="92.65" x2="292.40" y2="92.65" stroke="#444" stroke-width="0.6"/>
<line x1="286.40" y1="108.40" x2="286.40" y2="110.60" stroke="#111" stroke-width="1"/>
<text x="286.40" y="120.10" text-anchor="middle" fill="#222" style="font-size:6.6px;" >72h</text>
<rect x="294.40" y="45.40" width="2.10" height="63.00" fill="#f3dcd7" />
<rect x="296.50" y="81.94" width="2.10" height="26.46" fill="#e6b0a6" />
<line x1="297.55" y1="83.44" x2="297.55" y2="80.05" stroke="#444" stroke-width="0.8"/>
<line x1="296.80" y1="80.05" x2="298.30" y2="80.05" stroke="#444" stroke-width="0.6"/>
<rect x="298.60" y="95.80" width="2.10" height="12.60" fill="#da968e" />
<line x1="299.65" y1="97.30" x2="299.65" y2="93.91" stroke="#444" stroke-width="0.8"/>
<line x1="298.90" y1="93.91" x2="300.40" y2="93.91" stroke="#444" stroke-width="0.6"/>
<rect x="300.70" y="102.10" width="2.10" height="6.30" fill="#c97a74" />
<line x1="301.75" y1="103.60" x2="301.75" y2="100.84" stroke="#444" stroke-width="0.8"/>
<line x1="301.00" y1="100.84" x2="302.50" y2="100.84" stroke="#444" stroke-width="0.6"/>
<rect x="302.80" y="101.47" width="2.10" height="6.93" fill="#bf4a5a" />
<line x1="303.85" y1="102.97" x2="303.85" y2="100.21" stroke="#444" stroke-width="0.8"/>
<line x1="303.10" y1="100.21" x2="304.60" y2="100.21" stroke="#444" stroke-width="0.6"/>
<rect x="304.90" y="102.73" width="2.10" height="5.67" fill="#a51435" />
<line x1="305.95" y1="104.23" x2="305.95" y2="101.47" stroke="#444" stroke-width="0.8"/>
<line x1="305.20" y1="101.47" x2="306.70" y2="101.47" stroke="#444" stroke-width="0.6"/>
<line x1="300.70" y1="108.40" x2="300.70" y2="110.60" stroke="#111" stroke-width="1"/>
<text x="300.70" y="120.10" text-anchor="middle" fill="#222" style="font-size:6.6px;" >96h</text>
<text x="281.40" y="148.50" text-anchor="middle" fill="#222" style="font-size:7.3px;"  textLength="22.6" lengthAdjust="spacingAndGlyphs">RS4;11</text>
<line x1="250.60" y1="152.50" x2="250.60" y2="232.40" stroke="#111" stroke-width="1.2"/>
<line x1="247.60" y1="231.80" x2="250.60" y2="231.80" stroke="#111" stroke-width="1"/>
<text x="244.00" y="234.00" text-anchor="end" fill="#222" style="font-size:6.3px;" >0</text>
<line x1="247.60" y1="216.36" x2="250.60" y2="216.36" stroke="#111" stroke-width="1"/>
<text x="244.00" y="218.56" text-anchor="end" fill="#222" style="font-size:6.3px;" >20</text>
<line x1="247.60" y1="200.92" x2="250.60" y2="200.92" stroke="#111" stroke-width="1"/>
<text x="244.00" y="203.12" text-anchor="end" fill="#222" style="font-size:6.3px;" >40</text>
<line x1="247.60" y1="185.48" x2="250.60" y2="185.48" stroke="#111" stroke-width="1"/>
<text x="244.00" y="187.68" text-anchor="end" fill="#222" style="font-size:6.3px;" >60</text>
<line x1="247.60" y1="170.04" x2="250.60" y2="170.04" stroke="#111" stroke-width="1"/>
<text x="244.00" y="172.24" text-anchor="end" fill="#222" style="font-size:6.3px;" >80</text>
<line x1="247.60" y1="154.60" x2="250.60" y2="154.60" stroke="#111" stroke-width="1"/>
<text x="244.00" y="156.80" text-anchor="end" fill="#222" style="font-size:6.3px;" >100</text>
<text transform="translate(230.50,192.10) rotate(-90)" text-anchor="middle" fill="#222" style="font-size:7.0px;"  textLength="66.7" lengthAdjust="spacingAndGlyphs">Specific apoptosis (SA), %</text>
<line x1="250.00" y1="231.80" x2="308.10" y2="231.80" stroke="#111" stroke-width="1.2"/>
<rect x="253.60" y="227.94" width="2.10" height="3.86" fill="#e6b0a6" />
<line x1="254.65" y1="229.44" x2="254.65" y2="226.94" stroke="#444" stroke-width="0.8"/>
<line x1="253.90" y1="226.94" x2="255.40" y2="226.94" stroke="#444" stroke-width="0.6"/>
<rect x="255.70" y="224.08" width="2.10" height="7.72" fill="#da968e" />
<line x1="256.75" y1="225.58" x2="256.75" y2="223.08" stroke="#444" stroke-width="0.8"/>
<line x1="256.00" y1="223.08" x2="257.50" y2="223.08" stroke="#444" stroke-width="0.6"/>
<rect x="257.80" y="221.76" width="2.10" height="10.04" fill="#c97a74" />
<line x1="258.85" y1="223.26" x2="258.85" y2="220.76" stroke="#444" stroke-width="0.8"/>
<line x1="258.10" y1="220.76" x2="259.60" y2="220.76" stroke="#444" stroke-width="0.6"/>
<rect x="259.90" y="220.99" width="2.10" height="10.81" fill="#bf4a5a" />
<line x1="260.95" y1="222.49" x2="260.95" y2="219.99" stroke="#444" stroke-width="0.8"/>
<line x1="260.20" y1="219.99" x2="261.70" y2="219.99" stroke="#444" stroke-width="0.6"/>
<rect x="262.00" y="220.61" width="2.10" height="11.19" fill="#a51435" />
<line x1="263.05" y1="222.11" x2="263.05" y2="219.61" stroke="#444" stroke-width="0.8"/>
<line x1="262.30" y1="219.61" x2="263.80" y2="219.61" stroke="#444" stroke-width="0.6"/>
<line x1="257.80" y1="231.80" x2="257.80" y2="234.00" stroke="#111" stroke-width="1"/>
<text x="257.80" y="243.30" text-anchor="middle" fill="#222" style="font-size:6.6px;" >24h</text>
<rect x="267.90" y="210.57" width="2.10" height="21.23" fill="#e6b0a6" />
<line x1="268.95" y1="212.07" x2="268.95" y2="209.57" stroke="#444" stroke-width="0.8"/>
<line x1="268.20" y1="209.57" x2="269.70" y2="209.57" stroke="#444" stroke-width="0.6"/>
<rect x="270.00" y="193.59" width="2.10" height="38.21" fill="#da968e" />
<line x1="271.05" y1="195.09" x2="271.05" y2="192.59" stroke="#444" stroke-width="0.8"/>
<line x1="270.30" y1="192.59" x2="271.80" y2="192.59" stroke="#444" stroke-width="0.6"/>
<rect x="272.10" y="182.39" width="2.10" height="49.41" fill="#c97a74" />
<line x1="273.15" y1="183.89" x2="273.15" y2="181.39" stroke="#444" stroke-width="0.8"/>
<line x1="272.40" y1="181.39" x2="273.90" y2="181.39" stroke="#444" stroke-width="0.6"/>
<rect x="274.20" y="183.55" width="2.10" height="48.25" fill="#bf4a5a" />
<line x1="275.25" y1="185.05" x2="275.25" y2="182.55" stroke="#444" stroke-width="0.8"/>
<line x1="274.50" y1="182.55" x2="276.00" y2="182.55" stroke="#444" stroke-width="0.6"/>
<rect x="276.30" y="184.71" width="2.10" height="47.09" fill="#a51435" />
<line x1="277.35" y1="186.21" x2="277.35" y2="183.71" stroke="#444" stroke-width="0.8"/>
<line x1="276.60" y1="183.71" x2="278.10" y2="183.71" stroke="#444" stroke-width="0.6"/>
<line x1="272.10" y1="231.80" x2="272.10" y2="234.00" stroke="#111" stroke-width="1"/>
<text x="272.10" y="243.30" text-anchor="middle" fill="#222" style="font-size:6.6px;" >48h</text>
<rect x="282.20" y="200.92" width="2.10" height="30.88" fill="#e6b0a6" />
<line x1="283.25" y1="202.42" x2="283.25" y2="199.92" stroke="#444" stroke-width="0.8"/>
<line x1="282.50" y1="199.92" x2="284.00" y2="199.92" stroke="#444" stroke-width="0.6"/>
<rect x="284.30" y="180.08" width="2.10" height="51.72" fill="#da968e" />
<line x1="285.35" y1="181.58" x2="285.35" y2="179.08" stroke="#444" stroke-width="0.8"/>
<line x1="284.60" y1="179.08" x2="286.10" y2="179.08" stroke="#444" stroke-width="0.6"/>
<rect x="286.40" y="168.50" width="2.10" height="63.30" fill="#c97a74" />
<line x1="287.45" y1="170.00" x2="287.45" y2="167.50" stroke="#444" stroke-width="0.8"/>
<line x1="286.70" y1="167.50" x2="288.20" y2="167.50" stroke="#444" stroke-width="0.6"/>
<rect x="288.50" y="168.11" width="2.10" height="63.69" fill="#bf4a5a" />
<line x1="289.55" y1="169.61" x2="289.55" y2="167.11" stroke="#444" stroke-width="0.8"/>
<line x1="288.80" y1="167.11" x2="290.30" y2="167.11" stroke="#444" stroke-width="0.6"/>
<rect x="290.60" y="168.11" width="2.10" height="63.69" fill="#a51435" />
<line x1="291.65" y1="169.61" x2="291.65" y2="167.11" stroke="#444" stroke-width="0.8"/>
<line x1="290.90" y1="167.11" x2="292.40" y2="167.11" stroke="#444" stroke-width="0.6"/>
<line x1="286.40" y1="231.80" x2="286.40" y2="234.00" stroke="#111" stroke-width="1"/>
<text x="286.40" y="243.30" text-anchor="middle" fill="#222" style="font-size:6.6px;" >72h</text>
<rect x="296.50" y="196.29" width="2.10" height="35.51" fill="#e6b0a6" />
<line x1="297.55" y1="197.79" x2="297.55" y2="195.29" stroke="#444" stroke-width="0.8"/>
<line x1="296.80" y1="195.29" x2="298.30" y2="195.29" stroke="#444" stroke-width="0.6"/>
<rect x="298.60" y="170.04" width="2.10" height="61.76" fill="#da968e" />
<line x1="299.65" y1="171.54" x2="299.65" y2="169.04" stroke="#444" stroke-width="0.8"/>
<line x1="298.90" y1="169.04" x2="300.40" y2="169.04" stroke="#444" stroke-width="0.6"/>
<rect x="300.70" y="158.46" width="2.10" height="73.34" fill="#c97a74" />
<line x1="301.75" y1="159.96" x2="301.75" y2="157.46" stroke="#444" stroke-width="0.8"/>
<line x1="301.00" y1="157.46" x2="302.50" y2="157.46" stroke="#444" stroke-width="0.6"/>
<rect x="302.80" y="158.07" width="2.10" height="73.73" fill="#bf4a5a" />
<line x1="303.85" y1="159.57" x2="303.85" y2="157.07" stroke="#444" stroke-width="0.8"/>
<line x1="303.10" y1="157.07" x2="304.60" y2="157.07" stroke="#444" stroke-width="0.6"/>
<rect x="304.90" y="158.07" width="2.10" height="73.73" fill="#a51435" />
<line x1="305.95" y1="159.57" x2="305.95" y2="157.07" stroke="#444" stroke-width="0.8"/>
<line x1="305.20" y1="157.07" x2="306.70" y2="157.07" stroke="#444" stroke-width="0.6"/>
<line x1="300.70" y1="231.80" x2="300.70" y2="234.00" stroke="#111" stroke-width="1"/>
<text x="300.70" y="243.30" text-anchor="middle" fill="#222" style="font-size:6.6px;" >96h</text>
<text x="367.30" y="25.40" text-anchor="middle" fill="#222" style="font-size:7.3px;"  textLength="23.4" lengthAdjust="spacingAndGlyphs">UoCB6</text>
<line x1="338.00" y1="29.50" x2="338.00" y2="109.00" stroke="#111" stroke-width="1.2"/>
<line x1="335.00" y1="108.40" x2="338.00" y2="108.40" stroke="#111" stroke-width="1"/>
<text x="331.40" y="110.60" text-anchor="end" fill="#222" style="font-size:6.3px;" >0</text>
<line x1="335.00" y1="95.80" x2="338.00" y2="95.80" stroke="#111" stroke-width="1"/>
<text x="331.40" y="98.00" text-anchor="end" fill="#222" style="font-size:6.3px;" >20</text>
<line x1="335.00" y1="83.20" x2="338.00" y2="83.20" stroke="#111" stroke-width="1"/>
<text x="331.40" y="85.40" text-anchor="end" fill="#222" style="font-size:6.3px;" >40</text>
<line x1="335.00" y1="70.60" x2="338.00" y2="70.60" stroke="#111" stroke-width="1"/>
<text x="331.40" y="72.80" text-anchor="end" fill="#222" style="font-size:6.3px;" >60</text>
<line x1="335.00" y1="58.00" x2="338.00" y2="58.00" stroke="#111" stroke-width="1"/>
<text x="331.40" y="60.20" text-anchor="end" fill="#222" style="font-size:6.3px;" >80</text>
<line x1="335.00" y1="45.40" x2="338.00" y2="45.40" stroke="#111" stroke-width="1"/>
<text x="331.40" y="47.60" text-anchor="end" fill="#222" style="font-size:6.3px;" >100</text>
<line x1="335.00" y1="32.80" x2="338.00" y2="32.80" stroke="#111" stroke-width="1"/>
<text x="331.40" y="35.00" text-anchor="end" fill="#222" style="font-size:6.3px;" >120</text>
<text transform="translate(319.10,69.30) rotate(-90)" text-anchor="middle" fill="#222" style="font-size:7.0px;"  textLength="38.5" lengthAdjust="spacingAndGlyphs">Viable cells, %</text>
<line x1="337.40" y1="108.40" x2="395.50" y2="108.40" stroke="#111" stroke-width="1.2"/>
<rect x="338.90" y="45.40" width="2.10" height="63.00" fill="#f3dcd7" />
<rect x="341.00" y="44.77" width="2.10" height="63.63" fill="#e6b0a6" />
<line x1="342.05" y1="46.27" x2="342.05" y2="41.62" stroke="#444" stroke-width="0.8"/>
<line x1="341.30" y1="41.62" x2="342.80" y2="41.62" stroke="#444" stroke-width="0.6"/>
<rect x="343.10" y="42.88" width="2.10" height="65.52" fill="#da968e" />
<line x1="344.15" y1="44.38" x2="344.15" y2="38.47" stroke="#444" stroke-width="0.8"/>
<line x1="343.40" y1="38.47" x2="344.90" y2="38.47" stroke="#444" stroke-width="0.6"/>
<rect x="345.20" y="44.77" width="2.10" height="63.63" fill="#c97a74" />
<line x1="346.25" y1="46.27" x2="346.25" y2="41.62" stroke="#444" stroke-width="0.8"/>
<line x1="345.50" y1="41.62" x2="347.00" y2="41.62" stroke="#444" stroke-width="0.6"/>
<rect x="347.30" y="44.77" width="2.10" height="63.63" fill="#bf4a5a" />
<line x1="348.35" y1="46.27" x2="348.35" y2="41.62" stroke="#444" stroke-width="0.8"/>
<line x1="347.60" y1="41.62" x2="349.10" y2="41.62" stroke="#444" stroke-width="0.6"/>
<rect x="349.40" y="48.55" width="2.10" height="59.85" fill="#a51435" />
<line x1="350.45" y1="50.05" x2="350.45" y2="47.29" stroke="#444" stroke-width="0.8"/>
<line x1="349.70" y1="47.29" x2="351.20" y2="47.29" stroke="#444" stroke-width="0.6"/>
<line x1="345.20" y1="108.40" x2="345.20" y2="110.60" stroke="#111" stroke-width="1"/>
<text x="345.20" y="120.10" text-anchor="middle" fill="#222" style="font-size:6.6px;" >24h</text>
<rect x="353.20" y="45.40" width="2.10" height="63.00" fill="#f3dcd7" />
<rect x="355.30" y="55.48" width="2.10" height="52.92" fill="#e6b0a6" />
<line x1="356.35" y1="56.98" x2="356.35" y2="53.59" stroke="#444" stroke-width="0.8"/>
<line x1="355.60" y1="53.59" x2="357.10" y2="53.59" stroke="#444" stroke-width="0.6"/>
<rect x="357.40" y="56.11" width="2.10" height="52.29" fill="#da968e" />
<line x1="358.45" y1="57.61" x2="358.45" y2="54.22" stroke="#444" stroke-width="0.8"/>
<line x1="357.70" y1="54.22" x2="359.20" y2="54.22" stroke="#444" stroke-width="0.6"/>
<rect x="359.50" y="58.00" width="2.10" height="50.40" fill="#c97a74" />
<line x1="360.55" y1="59.50" x2="360.55" y2="56.11" stroke="#444" stroke-width="0.8"/>
<line x1="359.80" y1="56.11" x2="361.30" y2="56.11" stroke="#444" stroke-width="0.6"/>
<rect x="361.60" y="68.71" width="2.10" height="39.69" fill="#bf4a5a" />
<line x1="362.65" y1="70.21" x2="362.65" y2="66.82" stroke="#444" stroke-width="0.8"/>
<line x1="361.90" y1="66.82" x2="363.40" y2="66.82" stroke="#444" stroke-width="0.6"/>
<rect x="363.70" y="81.31" width="2.10" height="27.09" fill="#a51435" />
<line x1="364.75" y1="82.81" x2="364.75" y2="79.42" stroke="#444" stroke-width="0.8"/>
<line x1="364.00" y1="79.42" x2="365.50" y2="79.42" stroke="#444" stroke-width="0.6"/>
<line x1="359.50" y1="108.40" x2="359.50" y2="110.60" stroke="#111" stroke-width="1"/>
<text x="359.50" y="120.10" text-anchor="middle" fill="#222" style="font-size:6.6px;" >48h</text>
<rect x="367.50" y="45.40" width="2.10" height="63.00" fill="#f3dcd7" />
<rect x="369.60" y="63.04" width="2.10" height="45.36" fill="#e6b0a6" />
<line x1="370.65" y1="64.54" x2="370.65" y2="61.15" stroke="#444" stroke-width="0.8"/>
<line x1="369.90" y1="61.15" x2="371.40" y2="61.15" stroke="#444" stroke-width="0.6"/>
<rect x="371.70" y="63.67" width="2.10" height="44.73" fill="#da968e" />
<line x1="372.75" y1="65.17" x2="372.75" y2="61.78" stroke="#444" stroke-width="0.8"/>
<line x1="372.00" y1="61.78" x2="373.50" y2="61.78" stroke="#444" stroke-width="0.6"/>
<rect x="373.80" y="63.04" width="2.10" height="45.36" fill="#c97a74" />
<line x1="374.85" y1="64.54" x2="374.85" y2="61.15" stroke="#444" stroke-width="0.8"/>
<line x1="374.10" y1="61.15" x2="375.60" y2="61.15" stroke="#444" stroke-width="0.6"/>
<rect x="375.90" y="82.57" width="2.10" height="25.83" fill="#bf4a5a" />
<line x1="376.95" y1="84.07" x2="376.95" y2="80.68" stroke="#444" stroke-width="0.8"/>
<line x1="376.20" y1="80.68" x2="377.70" y2="80.68" stroke="#444" stroke-width="0.6"/>
<rect x="378.00" y="89.50" width="2.10" height="18.90" fill="#a51435" />
<line x1="379.05" y1="91.00" x2="379.05" y2="87.61" stroke="#444" stroke-width="0.8"/>
<line x1="378.30" y1="87.61" x2="379.80" y2="87.61" stroke="#444" stroke-width="0.6"/>
<line x1="373.80" y1="108.40" x2="373.80" y2="110.60" stroke="#111" stroke-width="1"/>
<text x="373.80" y="120.10" text-anchor="middle" fill="#222" style="font-size:6.6px;" >72h</text>
<rect x="381.80" y="45.40" width="2.10" height="63.00" fill="#f3dcd7" />
<rect x="383.90" y="58.00" width="2.10" height="50.40" fill="#e6b0a6" />
<line x1="384.95" y1="59.50" x2="384.95" y2="56.11" stroke="#444" stroke-width="0.8"/>
<line x1="384.20" y1="56.11" x2="385.70" y2="56.11" stroke="#444" stroke-width="0.6"/>
<rect x="386.00" y="59.26" width="2.10" height="49.14" fill="#da968e" />
<line x1="387.05" y1="60.76" x2="387.05" y2="50.44" stroke="#444" stroke-width="0.8"/>
<line x1="386.30" y1="50.44" x2="387.80" y2="50.44" stroke="#444" stroke-width="0.6"/>
<rect x="388.10" y="76.90" width="2.10" height="31.50" fill="#c97a74" />
<line x1="389.15" y1="78.40" x2="389.15" y2="75.01" stroke="#444" stroke-width="0.8"/>
<line x1="388.40" y1="75.01" x2="389.90" y2="75.01" stroke="#444" stroke-width="0.6"/>
<rect x="390.20" y="94.54" width="2.10" height="13.86" fill="#bf4a5a" />
<line x1="391.25" y1="96.04" x2="391.25" y2="92.65" stroke="#444" stroke-width="0.8"/>
<line x1="390.50" y1="92.65" x2="392.00" y2="92.65" stroke="#444" stroke-width="0.6"/>
<rect x="392.30" y="96.43" width="2.10" height="11.97" fill="#a51435" />
<line x1="393.35" y1="97.93" x2="393.35" y2="94.54" stroke="#444" stroke-width="0.8"/>
<line x1="392.60" y1="94.54" x2="394.10" y2="94.54" stroke="#444" stroke-width="0.6"/>
<line x1="388.10" y1="108.40" x2="388.10" y2="110.60" stroke="#111" stroke-width="1"/>
<text x="388.10" y="120.10" text-anchor="middle" fill="#222" style="font-size:6.6px;" >96h</text>
<text x="369.70" y="148.50" text-anchor="middle" fill="#222" style="font-size:7.3px;"  textLength="23.4" lengthAdjust="spacingAndGlyphs">UoCB6</text>
<line x1="338.00" y1="152.50" x2="338.00" y2="232.40" stroke="#111" stroke-width="1.2"/>
<line x1="335.00" y1="231.80" x2="338.00" y2="231.80" stroke="#111" stroke-width="1"/>
<text x="331.40" y="234.00" text-anchor="end" fill="#222" style="font-size:6.3px;" >0</text>
<line x1="335.00" y1="216.36" x2="338.00" y2="216.36" stroke="#111" stroke-width="1"/>
<text x="331.40" y="218.56" text-anchor="end" fill="#222" style="font-size:6.3px;" >20</text>
<line x1="335.00" y1="200.92" x2="338.00" y2="200.92" stroke="#111" stroke-width="1"/>
<text x="331.40" y="203.12" text-anchor="end" fill="#222" style="font-size:6.3px;" >40</text>
<line x1="335.00" y1="185.48" x2="338.00" y2="185.48" stroke="#111" stroke-width="1"/>
<text x="331.40" y="187.68" text-anchor="end" fill="#222" style="font-size:6.3px;" >60</text>
<line x1="335.00" y1="170.04" x2="338.00" y2="170.04" stroke="#111" stroke-width="1"/>
<text x="331.40" y="172.24" text-anchor="end" fill="#222" style="font-size:6.3px;" >80</text>
<line x1="335.00" y1="154.60" x2="338.00" y2="154.60" stroke="#111" stroke-width="1"/>
<text x="331.40" y="156.80" text-anchor="end" fill="#222" style="font-size:6.3px;" >100</text>
<text transform="translate(317.90,192.10) rotate(-90)" text-anchor="middle" fill="#222" style="font-size:7.0px;"  textLength="66.7" lengthAdjust="spacingAndGlyphs">Specific apoptosis (SA), %</text>
<line x1="337.40" y1="231.80" x2="395.50" y2="231.80" stroke="#111" stroke-width="1.2"/>
<rect x="341.00" y="228.71" width="2.10" height="3.09" fill="#e6b0a6" />
<line x1="342.05" y1="230.21" x2="342.05" y2="227.71" stroke="#444" stroke-width="0.8"/>
<line x1="341.30" y1="227.71" x2="342.80" y2="227.71" stroke="#444" stroke-width="0.6"/>
<rect x="343.10" y="225.24" width="2.10" height="6.56" fill="#da968e" />
<line x1="344.15" y1="226.74" x2="344.15" y2="224.24" stroke="#444" stroke-width="0.8"/>
<line x1="343.40" y1="224.24" x2="344.90" y2="224.24" stroke="#444" stroke-width="0.6"/>
<rect x="345.20" y="225.78" width="2.10" height="6.02" fill="#c97a74" />
<line x1="346.25" y1="227.28" x2="346.25" y2="224.78" stroke="#444" stroke-width="0.8"/>
<line x1="345.50" y1="224.78" x2="347.00" y2="224.78" stroke="#444" stroke-width="0.6"/>
<rect x="347.30" y="227.17" width="2.10" height="4.63" fill="#bf4a5a" />
<line x1="348.35" y1="228.67" x2="348.35" y2="226.17" stroke="#444" stroke-width="0.8"/>
<line x1="347.60" y1="226.17" x2="349.10" y2="226.17" stroke="#444" stroke-width="0.6"/>
<rect x="349.40" y="224.39" width="2.10" height="7.41" fill="#a51435" />
<line x1="350.45" y1="225.89" x2="350.45" y2="223.39" stroke="#444" stroke-width="0.8"/>
<line x1="349.70" y1="223.39" x2="351.20" y2="223.39" stroke="#444" stroke-width="0.6"/>
<line x1="345.20" y1="231.80" x2="345.20" y2="234.00" stroke="#111" stroke-width="1"/>
<text x="345.20" y="243.30" text-anchor="middle" fill="#222" style="font-size:6.6px;" >24h</text>
<rect x="355.30" y="217.90" width="2.10" height="13.90" fill="#e6b0a6" />
<line x1="356.35" y1="219.40" x2="356.35" y2="216.90" stroke="#444" stroke-width="0.8"/>
<line x1="355.60" y1="216.90" x2="357.10" y2="216.90" stroke="#444" stroke-width="0.6"/>
<rect x="357.40" y="208.25" width="2.10" height="23.55" fill="#da968e" />
<line x1="358.45" y1="209.75" x2="358.45" y2="207.25" stroke="#444" stroke-width="0.8"/>
<line x1="357.70" y1="207.25" x2="359.20" y2="207.25" stroke="#444" stroke-width="0.6"/>
<rect x="359.50" y="209.64" width="2.10" height="22.16" fill="#c97a74" />
<line x1="360.55" y1="211.14" x2="360.55" y2="208.64" stroke="#444" stroke-width="0.8"/>
<line x1="359.80" y1="208.64" x2="361.30" y2="208.64" stroke="#444" stroke-width="0.6"/>
<rect x="361.60" y="202.23" width="2.10" height="29.57" fill="#bf4a5a" />
<line x1="362.65" y1="203.73" x2="362.65" y2="201.23" stroke="#444" stroke-width="0.8"/>
<line x1="361.90" y1="201.23" x2="363.40" y2="201.23" stroke="#444" stroke-width="0.6"/>
<rect x="363.70" y="182.39" width="2.10" height="49.41" fill="#a51435" />
<line x1="364.75" y1="183.89" x2="364.75" y2="181.39" stroke="#444" stroke-width="0.8"/>
<line x1="364.00" y1="181.39" x2="365.50" y2="181.39" stroke="#444" stroke-width="0.6"/>
<line x1="359.50" y1="231.80" x2="359.50" y2="234.00" stroke="#111" stroke-width="1"/>
<text x="359.50" y="243.30" text-anchor="middle" fill="#222" style="font-size:6.6px;" >48h</text>
<rect x="369.60" y="219.76" width="2.10" height="12.04" fill="#e6b0a6" />
<line x1="370.65" y1="221.26" x2="370.65" y2="218.76" stroke="#444" stroke-width="0.8"/>
<line x1="369.90" y1="218.76" x2="371.40" y2="218.76" stroke="#444" stroke-width="0.6"/>
<rect x="371.70" y="209.64" width="2.10" height="22.16" fill="#da968e" />
<line x1="372.75" y1="211.14" x2="372.75" y2="208.64" stroke="#444" stroke-width="0.8"/>
<line x1="372.00" y1="208.64" x2="373.50" y2="208.64" stroke="#444" stroke-width="0.6"/>
<rect x="373.80" y="207.64" width="2.10" height="24.16" fill="#c97a74" />
<line x1="374.85" y1="209.14" x2="374.85" y2="206.64" stroke="#444" stroke-width="0.8"/>
<line x1="374.10" y1="206.64" x2="375.60" y2="206.64" stroke="#444" stroke-width="0.6"/>
<rect x="375.90" y="176.37" width="2.10" height="55.43" fill="#bf4a5a" />
<line x1="376.95" y1="177.87" x2="376.95" y2="175.37" stroke="#444" stroke-width="0.8"/>
<line x1="376.20" y1="175.37" x2="377.70" y2="175.37" stroke="#444" stroke-width="0.6"/>
<rect x="378.00" y="164.33" width="2.10" height="67.47" fill="#a51435" />
<line x1="379.05" y1="165.83" x2="379.05" y2="163.33" stroke="#444" stroke-width="0.8"/>
<line x1="378.30" y1="163.33" x2="379.80" y2="163.33" stroke="#444" stroke-width="0.6"/>
<line x1="373.80" y1="231.80" x2="373.80" y2="234.00" stroke="#111" stroke-width="1"/>
<text x="373.80" y="243.30" text-anchor="middle" fill="#222" style="font-size:6.6px;" >72h</text>
<rect x="383.90" y="209.64" width="2.10" height="22.16" fill="#e6b0a6" />
<line x1="384.95" y1="211.14" x2="384.95" y2="208.64" stroke="#444" stroke-width="0.8"/>
<line x1="384.20" y1="208.64" x2="385.70" y2="208.64" stroke="#444" stroke-width="0.6"/>
<rect x="386.00" y="207.10" width="2.10" height="24.70" fill="#da968e" />
<line x1="387.05" y1="208.60" x2="387.05" y2="206.10" stroke="#444" stroke-width="0.8"/>
<line x1="386.30" y1="206.10" x2="387.80" y2="206.10" stroke="#444" stroke-width="0.6"/>
<rect x="388.10" y="187.49" width="2.10" height="44.31" fill="#c97a74" />
<line x1="389.15" y1="188.99" x2="389.15" y2="186.49" stroke="#444" stroke-width="0.8"/>
<line x1="388.40" y1="186.49" x2="389.90" y2="186.49" stroke="#444" stroke-width="0.6"/>
<rect x="390.20" y="162.32" width="2.10" height="69.48" fill="#bf4a5a" />
<line x1="391.25" y1="163.82" x2="391.25" y2="161.32" stroke="#444" stroke-width="0.8"/>
<line x1="390.50" y1="161.32" x2="392.00" y2="161.32" stroke="#444" stroke-width="0.6"/>
<rect x="392.30" y="162.32" width="2.10" height="69.48" fill="#a51435" />
<line x1="393.35" y1="163.82" x2="393.35" y2="161.32" stroke="#444" stroke-width="0.8"/>
<line x1="392.60" y1="161.32" x2="394.10" y2="161.32" stroke="#444" stroke-width="0.6"/>
<line x1="388.10" y1="231.80" x2="388.10" y2="234.00" stroke="#111" stroke-width="1"/>
<text x="388.10" y="243.30" text-anchor="middle" fill="#222" style="font-size:6.6px;" >96h</text>
<text x="454.50" y="25.40" text-anchor="middle" fill="#222" style="font-size:7.3px;"  textLength="17.4" lengthAdjust="spacingAndGlyphs">018Z</text>
<line x1="426.10" y1="29.50" x2="426.10" y2="109.00" stroke="#111" stroke-width="1.2"/>
<line x1="423.10" y1="108.40" x2="426.10" y2="108.40" stroke="#111" stroke-width="1"/>
<text x="419.50" y="110.60" text-anchor="end" fill="#222" style="font-size:6.3px;" >0</text>
<line x1="423.10" y1="95.80" x2="426.10" y2="95.80" stroke="#111" stroke-width="1"/>
<text x="419.50" y="98.00" text-anchor="end" fill="#222" style="font-size:6.3px;" >20</text>
<line x1="423.10" y1="83.20" x2="426.10" y2="83.20" stroke="#111" stroke-width="1"/>
<text x="419.50" y="85.40" text-anchor="end" fill="#222" style="font-size:6.3px;" >40</text>
<line x1="423.10" y1="70.60" x2="426.10" y2="70.60" stroke="#111" stroke-width="1"/>
<text x="419.50" y="72.80" text-anchor="end" fill="#222" style="font-size:6.3px;" >60</text>
<line x1="423.10" y1="58.00" x2="426.10" y2="58.00" stroke="#111" stroke-width="1"/>
<text x="419.50" y="60.20" text-anchor="end" fill="#222" style="font-size:6.3px;" >80</text>
<line x1="423.10" y1="45.40" x2="426.10" y2="45.40" stroke="#111" stroke-width="1"/>
<text x="419.50" y="47.60" text-anchor="end" fill="#222" style="font-size:6.3px;" >100</text>
<line x1="423.10" y1="32.80" x2="426.10" y2="32.80" stroke="#111" stroke-width="1"/>
<text x="419.50" y="35.00" text-anchor="end" fill="#222" style="font-size:6.3px;" >120</text>
<text transform="translate(407.20,69.30) rotate(-90)" text-anchor="middle" fill="#222" style="font-size:7.0px;"  textLength="38.5" lengthAdjust="spacingAndGlyphs">Viable cells, %</text>
<line x1="425.50" y1="108.40" x2="483.60" y2="108.40" stroke="#111" stroke-width="1.2"/>
<rect x="427.00" y="45.40" width="2.10" height="63.00" fill="#f3dcd7" />
<rect x="429.10" y="43.51" width="2.10" height="64.89" fill="#e6b0a6" />
<line x1="430.15" y1="45.01" x2="430.15" y2="40.99" stroke="#444" stroke-width="0.8"/>
<line x1="429.40" y1="40.99" x2="430.90" y2="40.99" stroke="#444" stroke-width="0.6"/>
<rect x="431.20" y="42.88" width="2.10" height="65.52" fill="#da968e" />
<line x1="432.25" y1="44.38" x2="432.25" y2="39.73" stroke="#444" stroke-width="0.8"/>
<line x1="431.50" y1="39.73" x2="433.00" y2="39.73" stroke="#444" stroke-width="0.6"/>
<rect x="433.30" y="44.14" width="2.10" height="64.26" fill="#c97a74" />
<line x1="434.35" y1="45.64" x2="434.35" y2="41.62" stroke="#444" stroke-width="0.8"/>
<line x1="433.60" y1="41.62" x2="435.10" y2="41.62" stroke="#444" stroke-width="0.6"/>
<rect x="435.40" y="44.14" width="2.10" height="64.26" fill="#bf4a5a" />
<line x1="436.45" y1="45.64" x2="436.45" y2="41.62" stroke="#444" stroke-width="0.8"/>
<line x1="435.70" y1="41.62" x2="437.20" y2="41.62" stroke="#444" stroke-width="0.6"/>
<rect x="437.50" y="46.66" width="2.10" height="61.74" fill="#a51435" />
<line x1="438.55" y1="48.16" x2="438.55" y2="44.14" stroke="#444" stroke-width="0.8"/>
<line x1="437.80" y1="44.14" x2="439.30" y2="44.14" stroke="#444" stroke-width="0.6"/>
<line x1="433.30" y1="108.40" x2="433.30" y2="110.60" stroke="#111" stroke-width="1"/>
<text x="433.30" y="120.10" text-anchor="middle" fill="#222" style="font-size:6.6px;" >24h</text>
<rect x="441.30" y="44.77" width="2.10" height="63.63" fill="#f3dcd7" />
<rect x="443.40" y="45.40" width="2.10" height="63.00" fill="#e6b0a6" />
<line x1="444.45" y1="46.90" x2="444.45" y2="41.62" stroke="#444" stroke-width="0.8"/>
<line x1="443.70" y1="41.62" x2="445.20" y2="41.62" stroke="#444" stroke-width="0.6"/>
<rect x="445.50" y="47.29" width="2.10" height="61.11" fill="#da968e" />
<line x1="446.55" y1="48.79" x2="446.55" y2="44.77" stroke="#444" stroke-width="0.8"/>
<line x1="445.80" y1="44.77" x2="447.30" y2="44.77" stroke="#444" stroke-width="0.6"/>
<rect x="447.60" y="51.70" width="2.10" height="56.70" fill="#c97a74" />
<line x1="448.65" y1="53.20" x2="448.65" y2="49.81" stroke="#444" stroke-width="0.8"/>
<line x1="447.90" y1="49.81" x2="449.40" y2="49.81" stroke="#444" stroke-width="0.6"/>
<rect x="449.70" y="58.00" width="2.10" height="50.40" fill="#bf4a5a" />
<line x1="450.75" y1="59.50" x2="450.75" y2="56.11" stroke="#444" stroke-width="0.8"/>
<line x1="450.00" y1="56.11" x2="451.50" y2="56.11" stroke="#444" stroke-width="0.6"/>
<rect x="451.80" y="72.49" width="2.10" height="35.91" fill="#a51435" />
<line x1="452.85" y1="73.99" x2="452.85" y2="70.60" stroke="#444" stroke-width="0.8"/>
<line x1="452.10" y1="70.60" x2="453.60" y2="70.60" stroke="#444" stroke-width="0.6"/>
<line x1="447.60" y1="108.40" x2="447.60" y2="110.60" stroke="#111" stroke-width="1"/>
<text x="447.60" y="120.10" text-anchor="middle" fill="#222" style="font-size:6.6px;" >48h</text>
<rect x="455.60" y="42.88" width="2.10" height="65.52" fill="#f3dcd7" />
<rect x="457.70" y="44.77" width="2.10" height="63.63" fill="#e6b0a6" />
<line x1="458.75" y1="46.27" x2="458.75" y2="39.73" stroke="#444" stroke-width="0.8"/>
<line x1="458.00" y1="39.73" x2="459.50" y2="39.73" stroke="#444" stroke-width="0.6"/>
<rect x="459.80" y="67.45" width="2.10" height="40.95" fill="#da968e" />
<line x1="460.85" y1="68.95" x2="460.85" y2="65.56" stroke="#444" stroke-width="0.8"/>
<line x1="460.10" y1="65.56" x2="461.60" y2="65.56" stroke="#444" stroke-width="0.6"/>
<rect x="461.90" y="82.57" width="2.10" height="25.83" fill="#c97a74" />
<line x1="462.95" y1="84.07" x2="462.95" y2="80.68" stroke="#444" stroke-width="0.8"/>
<line x1="462.20" y1="80.68" x2="463.70" y2="80.68" stroke="#444" stroke-width="0.6"/>
<rect x="464.00" y="87.61" width="2.10" height="20.79" fill="#bf4a5a" />
<line x1="465.05" y1="89.11" x2="465.05" y2="85.72" stroke="#444" stroke-width="0.8"/>
<line x1="464.30" y1="85.72" x2="465.80" y2="85.72" stroke="#444" stroke-width="0.6"/>
<rect x="466.10" y="89.50" width="2.10" height="18.90" fill="#a51435" />
<line x1="467.15" y1="91.00" x2="467.15" y2="87.61" stroke="#444" stroke-width="0.8"/>
<line x1="466.40" y1="87.61" x2="467.90" y2="87.61" stroke="#444" stroke-width="0.6"/>
<line x1="461.90" y1="108.40" x2="461.90" y2="110.60" stroke="#111" stroke-width="1"/>
<text x="461.90" y="120.10" text-anchor="middle" fill="#222" style="font-size:6.6px;" >72h</text>
<rect x="469.90" y="44.77" width="2.10" height="63.63" fill="#f3dcd7" />
<rect x="472.00" y="34.69" width="2.10" height="73.71" fill="#e6b0a6" />
<line x1="473.05" y1="36.19" x2="473.05" y2="30.91" stroke="#444" stroke-width="0.8"/>
<line x1="472.30" y1="30.91" x2="473.80" y2="30.91" stroke="#444" stroke-width="0.6"/>
<rect x="474.10" y="63.67" width="2.10" height="44.73" fill="#da968e" />
<line x1="475.15" y1="65.17" x2="475.15" y2="61.78" stroke="#444" stroke-width="0.8"/>
<line x1="474.40" y1="61.78" x2="475.90" y2="61.78" stroke="#444" stroke-width="0.6"/>
<rect x="476.20" y="86.35" width="2.10" height="22.05" fill="#c97a74" />
<line x1="477.25" y1="87.85" x2="477.25" y2="84.46" stroke="#444" stroke-width="0.8"/>
<line x1="476.50" y1="84.46" x2="478.00" y2="84.46" stroke="#444" stroke-width="0.6"/>
<rect x="478.30" y="95.80" width="2.10" height="12.60" fill="#bf4a5a" />
<line x1="479.35" y1="97.30" x2="479.35" y2="93.91" stroke="#444" stroke-width="0.8"/>
<line x1="478.60" y1="93.91" x2="480.10" y2="93.91" stroke="#444" stroke-width="0.6"/>
<rect x="480.40" y="99.58" width="2.10" height="8.82" fill="#a51435" />
<line x1="481.45" y1="101.08" x2="481.45" y2="97.69" stroke="#444" stroke-width="0.8"/>
<line x1="480.70" y1="97.69" x2="482.20" y2="97.69" stroke="#444" stroke-width="0.6"/>
<line x1="476.20" y1="108.40" x2="476.20" y2="110.60" stroke="#111" stroke-width="1"/>
<text x="476.20" y="120.10" text-anchor="middle" fill="#222" style="font-size:6.6px;" >96h</text>
<text x="457.50" y="148.50" text-anchor="middle" fill="#222" style="font-size:7.3px;"  textLength="17.4" lengthAdjust="spacingAndGlyphs">018Z</text>
<line x1="426.10" y1="152.50" x2="426.10" y2="232.40" stroke="#111" stroke-width="1.2"/>
<line x1="423.10" y1="231.80" x2="426.10" y2="231.80" stroke="#111" stroke-width="1"/>
<text x="419.50" y="234.00" text-anchor="end" fill="#222" style="font-size:6.3px;" >0</text>
<line x1="423.10" y1="216.36" x2="426.10" y2="216.36" stroke="#111" stroke-width="1"/>
<text x="419.50" y="218.56" text-anchor="end" fill="#222" style="font-size:6.3px;" >20</text>
<line x1="423.10" y1="200.92" x2="426.10" y2="200.92" stroke="#111" stroke-width="1"/>
<text x="419.50" y="203.12" text-anchor="end" fill="#222" style="font-size:6.3px;" >40</text>
<line x1="423.10" y1="185.48" x2="426.10" y2="185.48" stroke="#111" stroke-width="1"/>
<text x="419.50" y="187.68" text-anchor="end" fill="#222" style="font-size:6.3px;" >60</text>
<line x1="423.10" y1="170.04" x2="426.10" y2="170.04" stroke="#111" stroke-width="1"/>
<text x="419.50" y="172.24" text-anchor="end" fill="#222" style="font-size:6.3px;" >80</text>
<line x1="423.10" y1="154.60" x2="426.10" y2="154.60" stroke="#111" stroke-width="1"/>
<text x="419.50" y="156.80" text-anchor="end" fill="#222" style="font-size:6.3px;" >100</text>
<text transform="translate(406.00,192.10) rotate(-90)" text-anchor="middle" fill="#222" style="font-size:7.0px;"  textLength="66.7" lengthAdjust="spacingAndGlyphs">Specific apoptosis (SA), %</text>
<line x1="425.50" y1="231.80" x2="483.60" y2="231.80" stroke="#111" stroke-width="1.2"/>
<rect x="429.10" y="230.26" width="2.10" height="1.54" fill="#e6b0a6" />
<line x1="430.15" y1="231.76" x2="430.15" y2="229.26" stroke="#444" stroke-width="0.8"/>
<line x1="429.40" y1="229.26" x2="430.90" y2="229.26" stroke="#444" stroke-width="0.6"/>
<rect x="431.20" y="229.48" width="2.10" height="2.32" fill="#da968e" />
<line x1="432.25" y1="230.98" x2="432.25" y2="228.48" stroke="#444" stroke-width="0.8"/>
<line x1="431.50" y1="228.48" x2="433.00" y2="228.48" stroke="#444" stroke-width="0.6"/>
<rect x="433.30" y="223.31" width="2.10" height="8.49" fill="#c97a74" />
<line x1="434.35" y1="224.81" x2="434.35" y2="222.31" stroke="#444" stroke-width="0.8"/>
<line x1="433.60" y1="222.31" x2="435.10" y2="222.31" stroke="#444" stroke-width="0.6"/>
<rect x="435.40" y="216.36" width="2.10" height="15.44" fill="#bf4a5a" />
<line x1="436.45" y1="217.86" x2="436.45" y2="215.36" stroke="#444" stroke-width="0.8"/>
<line x1="435.70" y1="215.36" x2="437.20" y2="215.36" stroke="#444" stroke-width="0.6"/>
<rect x="437.50" y="207.87" width="2.10" height="23.93" fill="#a51435" />
<line x1="438.55" y1="209.37" x2="438.55" y2="206.87" stroke="#444" stroke-width="0.8"/>
<line x1="437.80" y1="206.87" x2="439.30" y2="206.87" stroke="#444" stroke-width="0.6"/>
<line x1="433.30" y1="231.80" x2="433.30" y2="234.00" stroke="#111" stroke-width="1"/>
<text x="433.30" y="243.30" text-anchor="middle" fill="#222" style="font-size:6.6px;" >24h</text>
<rect x="443.40" y="229.48" width="2.10" height="2.32" fill="#e6b0a6" />
<line x1="444.45" y1="230.98" x2="444.45" y2="228.48" stroke="#444" stroke-width="0.8"/>
<line x1="443.70" y1="228.48" x2="445.20" y2="228.48" stroke="#444" stroke-width="0.6"/>
<rect x="445.50" y="227.94" width="2.10" height="3.86" fill="#da968e" />
<line x1="446.55" y1="229.44" x2="446.55" y2="226.94" stroke="#444" stroke-width="0.8"/>
<line x1="445.80" y1="226.94" x2="447.30" y2="226.94" stroke="#444" stroke-width="0.6"/>
<rect x="447.60" y="214.04" width="2.10" height="17.76" fill="#c97a74" />
<line x1="448.65" y1="215.54" x2="448.65" y2="213.04" stroke="#444" stroke-width="0.8"/>
<line x1="447.90" y1="213.04" x2="449.40" y2="213.04" stroke="#444" stroke-width="0.6"/>
<rect x="449.70" y="207.87" width="2.10" height="23.93" fill="#bf4a5a" />
<line x1="450.75" y1="209.37" x2="450.75" y2="206.87" stroke="#444" stroke-width="0.8"/>
<line x1="450.00" y1="206.87" x2="451.50" y2="206.87" stroke="#444" stroke-width="0.6"/>
<rect x="451.80" y="197.83" width="2.10" height="33.97" fill="#a51435" />
<line x1="452.85" y1="199.33" x2="452.85" y2="196.83" stroke="#444" stroke-width="0.8"/>
<line x1="452.10" y1="196.83" x2="453.60" y2="196.83" stroke="#444" stroke-width="0.6"/>
<line x1="447.60" y1="231.80" x2="447.60" y2="234.00" stroke="#111" stroke-width="1"/>
<text x="447.60" y="243.30" text-anchor="middle" fill="#222" style="font-size:6.6px;" >48h</text>
<rect x="457.70" y="227.94" width="2.10" height="3.86" fill="#e6b0a6" />
<line x1="458.75" y1="229.44" x2="458.75" y2="226.94" stroke="#444" stroke-width="0.8"/>
<line x1="458.00" y1="226.94" x2="459.50" y2="226.94" stroke="#444" stroke-width="0.6"/>
<rect x="459.80" y="213.27" width="2.10" height="18.53" fill="#da968e" />
<line x1="460.85" y1="214.77" x2="460.85" y2="212.27" stroke="#444" stroke-width="0.8"/>
<line x1="460.10" y1="212.27" x2="461.60" y2="212.27" stroke="#444" stroke-width="0.6"/>
<rect x="461.90" y="202.46" width="2.10" height="29.34" fill="#c97a74" />
<line x1="462.95" y1="203.96" x2="462.95" y2="201.46" stroke="#444" stroke-width="0.8"/>
<line x1="462.20" y1="201.46" x2="463.70" y2="201.46" stroke="#444" stroke-width="0.6"/>
<rect x="464.00" y="200.92" width="2.10" height="30.88" fill="#bf4a5a" />
<line x1="465.05" y1="202.42" x2="465.05" y2="199.92" stroke="#444" stroke-width="0.8"/>
<line x1="464.30" y1="199.92" x2="465.80" y2="199.92" stroke="#444" stroke-width="0.6"/>
<rect x="466.10" y="190.88" width="2.10" height="40.92" fill="#a51435" />
<line x1="467.15" y1="192.38" x2="467.15" y2="189.88" stroke="#444" stroke-width="0.8"/>
<line x1="466.40" y1="189.88" x2="467.90" y2="189.88" stroke="#444" stroke-width="0.6"/>
<line x1="461.90" y1="231.80" x2="461.90" y2="234.00" stroke="#111" stroke-width="1"/>
<text x="461.90" y="243.30" text-anchor="middle" fill="#222" style="font-size:6.6px;" >72h</text>
<rect x="472.00" y="220.99" width="2.10" height="10.81" fill="#e6b0a6" />
<line x1="473.05" y1="222.49" x2="473.05" y2="219.99" stroke="#444" stroke-width="0.8"/>
<line x1="472.30" y1="219.99" x2="473.80" y2="219.99" stroke="#444" stroke-width="0.6"/>
<rect x="474.10" y="207.10" width="2.10" height="24.70" fill="#da968e" />
<line x1="475.15" y1="208.60" x2="475.15" y2="206.10" stroke="#444" stroke-width="0.8"/>
<line x1="474.40" y1="206.10" x2="475.90" y2="206.10" stroke="#444" stroke-width="0.6"/>
<rect x="476.20" y="197.06" width="2.10" height="34.74" fill="#c97a74" />
<line x1="477.25" y1="198.56" x2="477.25" y2="196.06" stroke="#444" stroke-width="0.8"/>
<line x1="476.50" y1="196.06" x2="478.00" y2="196.06" stroke="#444" stroke-width="0.6"/>
<rect x="478.30" y="189.34" width="2.10" height="42.46" fill="#bf4a5a" />
<line x1="479.35" y1="190.84" x2="479.35" y2="188.34" stroke="#444" stroke-width="0.8"/>
<line x1="478.60" y1="188.34" x2="480.10" y2="188.34" stroke="#444" stroke-width="0.6"/>
<rect x="480.40" y="187.02" width="2.10" height="44.78" fill="#a51435" />
<line x1="481.45" y1="188.52" x2="481.45" y2="186.02" stroke="#444" stroke-width="0.8"/>
<line x1="480.70" y1="186.02" x2="482.20" y2="186.02" stroke="#444" stroke-width="0.6"/>
<line x1="476.20" y1="231.80" x2="476.20" y2="234.00" stroke="#111" stroke-width="1"/>
<text x="476.20" y="243.30" text-anchor="middle" fill="#222" style="font-size:6.6px;" >96h</text>
<text x="257.50" y="34.95" text-anchor="middle" fill="#333" style="font-size:5.4px;letter-spacing:-0.1px;" >***</text>
<polyline points="252.20,36.20 252.20,35.00 262.90,35.00 262.90,36.20" fill="none" stroke="#333" stroke-width="0.85"/>
<text x="256.20" y="40.35" text-anchor="middle" fill="#333" style="font-size:5.4px;letter-spacing:-0.1px;" >*</text>
<polyline points="252.20,41.30 252.20,39.50 260.90,39.50 260.90,48.80" fill="none" stroke="#333" stroke-width="0.85"/>
<text x="270.00" y="42.65" text-anchor="middle" fill="#333" style="font-size:5.4px;letter-spacing:-0.1px;" >***</text>
<polyline points="266.30,43.80 266.30,42.30 273.80,42.30 273.80,51.30" fill="none" stroke="#333" stroke-width="0.85"/>
<line x1="268.80" y1="51.30" x2="277.80" y2="51.30" stroke="#333" stroke-width="0.85"/>
<text x="284.10" y="43.25" text-anchor="middle" fill="#333" style="font-size:5.4px;letter-spacing:-0.1px;" >***</text>
<polyline points="280.30,44.60 280.30,42.60 287.80,42.60 287.80,63.40" fill="none" stroke="#333" stroke-width="0.85"/>
<line x1="282.20" y1="63.40" x2="292.30" y2="63.40" stroke="#333" stroke-width="0.85"/>
<text x="298.50" y="43.25" text-anchor="middle" fill="#333" style="font-size:5.4px;letter-spacing:-0.1px;" >***</text>
<polyline points="294.50,44.60 294.50,42.60 302.70,42.60 302.70,73.20" fill="none" stroke="#333" stroke-width="0.85"/>
<line x1="296.70" y1="73.20" x2="306.50" y2="73.20" stroke="#333" stroke-width="0.85"/>
<text x="358.30" y="37.25" text-anchor="middle" fill="#333" style="font-size:5.4px;letter-spacing:-0.1px;" >***</text>
<polyline points="353.20,38.20 353.20,36.60 362.10,36.60 362.10,53.30" fill="none" stroke="#333" stroke-width="0.85"/>
<line x1="358.10" y1="53.30" x2="365.60" y2="53.30" stroke="#333" stroke-width="0.85"/>
<text x="355.60" y="42.95" text-anchor="middle" fill="#333" style="font-size:5.4px;letter-spacing:-0.1px;" >***</text>
<polyline points="353.20,44.00 353.20,42.20 356.70,42.20 356.70,51.70" fill="none" stroke="#333" stroke-width="0.85"/>
<text x="371.40" y="37.25" text-anchor="middle" fill="#333" style="font-size:5.4px;letter-spacing:-0.1px;" >***</text>
<polyline points="367.80,38.20 367.80,36.60 376.40,36.60 376.40,59.80" fill="none" stroke="#333" stroke-width="0.85"/>
<line x1="372.10" y1="59.80" x2="380.10" y2="59.80" stroke="#333" stroke-width="0.85"/>
<text x="369.10" y="42.95" text-anchor="middle" fill="#333" style="font-size:5.4px;letter-spacing:-0.1px;" >***</text>
<polyline points="367.80,44.00 367.80,42.20 370.50,42.20 370.50,54.90" fill="none" stroke="#333" stroke-width="0.85"/>
<text x="386.00" y="42.65" text-anchor="middle" fill="#333" style="font-size:5.4px;letter-spacing:-0.1px;" >***</text>
<polyline points="382.30,44.20 382.30,42.50 389.80,42.50 389.80,52.80" fill="none" stroke="#333" stroke-width="0.85"/>
<polyline points="384.40,57.60 384.40,52.80 394.10,52.80" fill="none" stroke="#333" stroke-width="0.85"/>
<text x="447.30" y="32.45" text-anchor="middle" fill="#333" style="font-size:5.4px;letter-spacing:-0.1px;" >***</text>
<polyline points="441.40,33.50 441.40,31.60 452.70,31.60 452.70,55.00" fill="none" stroke="#333" stroke-width="0.85"/>
<line x1="451.10" y1="55.00" x2="455.50" y2="55.00" stroke="#333" stroke-width="0.85"/>
<text x="443.30" y="42.75" text-anchor="middle" fill="#333" style="font-size:5.4px;letter-spacing:-0.1px;" >*</text>
<polyline points="441.40,42.50 441.40,41.00 444.50,41.00 444.50,42.50" fill="none" stroke="#333" stroke-width="0.85"/>
<text x="460.80" y="33.85" text-anchor="middle" fill="#333" style="font-size:5.4px;letter-spacing:-0.1px;" >***</text>
<polyline points="455.90,37.20 455.90,33.50 465.10,33.50 465.10,65.20" fill="none" stroke="#333" stroke-width="0.85"/>
<line x1="462.40" y1="65.20" x2="467.80" y2="65.20" stroke="#333" stroke-width="0.85"/>
<text x="475.00" y="30.35" text-anchor="middle" fill="#333" style="font-size:5.4px;letter-spacing:-0.1px;" >***</text>
<polyline points="470.20,31.30 470.20,29.70 479.60,29.70 479.60,62.00" fill="none" stroke="#333" stroke-width="0.85"/>
<line x1="474.80" y1="62.00" x2="483.40" y2="62.00" stroke="#333" stroke-width="0.85"/>
<text x="256.00" y="215.55" text-anchor="middle" fill="#333" style="font-size:5.4px;letter-spacing:-0.1px;" >***</text>
<polyline points="252.30,217.10 252.30,215.70 258.20,215.70" fill="none" stroke="#333" stroke-width="0.85"/>
<polyline points="253.80,216.70 263.30,216.70 263.30,218.10" fill="none" stroke="#333" stroke-width="0.85"/>
<text x="255.50" y="222.05" text-anchor="middle" fill="#333" style="font-size:5.4px;letter-spacing:-0.1px;" >***</text>
<polyline points="252.30,223.00 252.30,221.20 256.20,221.20" fill="none" stroke="#333" stroke-width="0.85"/>
<text x="269.60" y="178.95" text-anchor="middle" fill="#333" style="font-size:5.4px;letter-spacing:-0.1px;" >***</text>
<polyline points="266.00,179.70 266.00,178.30 274.80,178.30" fill="none" stroke="#333" stroke-width="0.85"/>
<polyline points="267.50,179.30 278.00,179.30 278.00,180.70" fill="none" stroke="#333" stroke-width="0.85"/>
<text x="283.50" y="164.35" text-anchor="middle" fill="#333" style="font-size:5.4px;letter-spacing:-0.1px;" >***</text>
<polyline points="280.00,165.00 280.00,163.60 288.60,163.60" fill="none" stroke="#333" stroke-width="0.85"/>
<polyline points="281.50,164.60 291.50,164.60 291.50,166.00" fill="none" stroke="#333" stroke-width="0.85"/>
<text x="297.70" y="157.35" text-anchor="middle" fill="#333" style="font-size:5.4px;letter-spacing:-0.1px;" >***</text>
<polyline points="294.50,157.70 294.50,156.30 301.30,156.30" fill="none" stroke="#333" stroke-width="0.85"/>
<polyline points="296.00,157.30 306.50,157.30 306.50,158.70" fill="none" stroke="#333" stroke-width="0.85"/>
<text x="344.20" y="213.35" text-anchor="middle" fill="#333" style="font-size:5.4px;letter-spacing:-0.1px;" >***</text>
<polyline points="340.30,214.40 340.30,212.90 350.50,212.90 350.50,214.40" fill="none" stroke="#333" stroke-width="0.85"/>
<text x="344.60" y="218.95" text-anchor="middle" fill="#333" style="font-size:5.4px;letter-spacing:-0.1px;" >*</text>
<polyline points="340.30,219.40 340.30,217.90 348.50,217.90" fill="none" stroke="#333" stroke-width="0.85"/>
<text x="342.10" y="223.55" text-anchor="middle" fill="#333" style="font-size:5.4px;letter-spacing:-0.1px;" >**</text>
<polyline points="340.30,223.90 340.30,222.40 342.80,222.40" fill="none" stroke="#333" stroke-width="0.85"/>
<text x="357.40" y="179.65" text-anchor="middle" fill="#333" style="font-size:5.4px;letter-spacing:-0.1px;" >***</text>
<polyline points="353.50,180.90 353.50,179.50 362.00,179.50" fill="none" stroke="#333" stroke-width="0.85"/>
<polyline points="355.00,180.50 364.80,180.50 364.80,181.90" fill="none" stroke="#333" stroke-width="0.85"/>
<text x="371.10" y="162.15" text-anchor="middle" fill="#333" style="font-size:5.4px;letter-spacing:-0.1px;" >***</text>
<polyline points="367.80,162.90 367.80,161.50 375.90,161.50" fill="none" stroke="#333" stroke-width="0.85"/>
<polyline points="369.30,162.50 379.50,162.50 379.50,163.90" fill="none" stroke="#333" stroke-width="0.85"/>
<text x="385.80" y="161.15" text-anchor="middle" fill="#333" style="font-size:5.4px;letter-spacing:-0.1px;" >***</text>
<polyline points="382.30,162.70 382.30,161.30 390.60,161.30" fill="none" stroke="#333" stroke-width="0.85"/>
<polyline points="383.80,162.30 393.40,162.30 393.40,163.70" fill="none" stroke="#333" stroke-width="0.85"/>
<text x="433.00" y="202.95" text-anchor="middle" fill="#333" style="font-size:5.4px;letter-spacing:-0.1px;" >***</text>
<polyline points="428.80,203.80 428.80,202.30 437.60,202.30 437.60,203.80" fill="none" stroke="#333" stroke-width="0.85"/>
<text x="430.50" y="223.55" text-anchor="middle" fill="#333" style="font-size:5.4px;letter-spacing:-0.1px;" >**</text>
<polyline points="428.80,224.90 428.80,223.40 432.50,223.40 432.50,224.90" fill="none" stroke="#333" stroke-width="0.85"/>
<text x="445.80" y="196.25" text-anchor="middle" fill="#333" style="font-size:5.4px;letter-spacing:-0.1px;" >***</text>
<polyline points="441.60,197.20 441.60,195.80 451.00,195.80" fill="none" stroke="#333" stroke-width="0.85"/>
<polyline points="443.10,196.80 453.50,196.80 453.50,198.20" fill="none" stroke="#333" stroke-width="0.85"/>
<text x="442.80" y="227.65" text-anchor="middle" fill="#333" style="font-size:5.4px;letter-spacing:-0.1px;" >*</text>
<polyline points="441.60,228.20 441.60,226.80 444.50,226.80 444.50,228.20" fill="none" stroke="#333" stroke-width="0.85"/>
<text x="460.20" y="189.15" text-anchor="middle" fill="#333" style="font-size:5.4px;letter-spacing:-0.1px;" >***</text>
<polyline points="456.00,189.90 456.00,188.50 464.80,188.50" fill="none" stroke="#333" stroke-width="0.85"/>
<polyline points="457.50,189.50 467.90,189.50 467.90,190.90" fill="none" stroke="#333" stroke-width="0.85"/>
<text x="474.00" y="184.35" text-anchor="middle" fill="#333" style="font-size:5.4px;letter-spacing:-0.1px;" >***</text>
<polyline points="469.80,185.20 469.80,183.80 478.00,183.80" fill="none" stroke="#333" stroke-width="0.85"/>
<polyline points="471.30,184.80 481.50,184.80 481.50,186.20" fill="none" stroke="#333" stroke-width="0.85"/>
<rect x="483.90" y="17.50" width="7.80" height="4.00" fill="#f1cacb" />
<text x="494.90" y="21.40" text-anchor="start" fill="#333" style="font-size:5.4px;" >0 nM</text>
<rect x="483.90" y="26.32" width="7.80" height="4.00" fill="#e3aaaa" />
<text x="494.90" y="30.22" text-anchor="start" fill="#333" style="font-size:5.4px;" >20 nM</text>
<rect x="483.90" y="35.14" width="7.80" height="4.00" fill="#d39391" />
<text x="494.90" y="39.04" text-anchor="start" fill="#333" style="font-size:5.4px;" >40 nM</text>
<rect x="483.90" y="43.96" width="7.80" height="4.00" fill="#c26c68" />
<text x="494.90" y="47.86" text-anchor="start" fill="#333" style="font-size:5.4px;" >80 nM</text>
<rect x="483.90" y="52.78" width="7.80" height="4.00" fill="#aa3a4a" />
<text x="494.90" y="56.68" text-anchor="start" fill="#333" style="font-size:5.4px;" >160 nM</text>
<rect x="483.90" y="61.60" width="7.80" height="4.00" fill="#a10c30" />
<text x="494.90" y="65.50" text-anchor="start" fill="#333" style="font-size:5.4px;" >320 nM</text>
<rect x="485.50" y="136.60" width="7.80" height="4.00" fill="#f1cacb" />
<text x="496.50" y="140.50" text-anchor="start" fill="#333" style="font-size:5.4px;" >0 nM</text>
<rect x="485.50" y="145.42" width="7.80" height="4.00" fill="#e3aaaa" />
<text x="496.50" y="149.32" text-anchor="start" fill="#333" style="font-size:5.4px;" >20 nM</text>
<rect x="485.50" y="154.24" width="7.80" height="4.00" fill="#d39391" />
<text x="496.50" y="158.14" text-anchor="start" fill="#333" style="font-size:5.4px;" >40 nM</text>
<rect x="485.50" y="163.06" width="7.80" height="4.00" fill="#c26c68" />
<text x="496.50" y="166.96" text-anchor="start" fill="#333" style="font-size:5.4px;" >80 nM</text>
<rect x="485.50" y="171.88" width="7.80" height="4.00" fill="#aa3a4a" />
<text x="496.50" y="175.78" text-anchor="start" fill="#333" style="font-size:5.4px;" >160 nM</text>
<rect x="485.50" y="180.70" width="7.80" height="4.00" fill="#a10c30" />
<text x="496.50" y="184.60" text-anchor="start" fill="#333" style="font-size:5.4px;" >320 nM</text>
<text x="218.70" y="286.30" text-anchor="start" fill="#111" style="font-size:10.9px;font-weight:bold;stroke-width:0.45px;stroke:#111;"  textLength="8.6" lengthAdjust="spacingAndGlyphs">G</text>
<text x="298.50" y="299.40" text-anchor="middle" fill="#222" style="font-size:8.7px;"  textLength="31.8" lengthAdjust="spacingAndGlyphs">NALM-6</text>
<line x1="244.00" y1="314.58" x2="244.00" y2="413.50" stroke="#111" stroke-width="1.2"/>
<line x1="241.20" y1="412.90" x2="244.00" y2="412.90" stroke="#111" stroke-width="1"/>
<text x="238.80" y="415.10" text-anchor="end" fill="#222" style="font-size:6.4px;" >0</text>
<line x1="241.20" y1="389.07" x2="244.00" y2="389.07" stroke="#111" stroke-width="1"/>
<text x="238.80" y="391.27" text-anchor="end" fill="#222" style="font-size:6.4px;" >10</text>
<line x1="241.20" y1="365.24" x2="244.00" y2="365.24" stroke="#111" stroke-width="1"/>
<text x="238.80" y="367.44" text-anchor="end" fill="#222" style="font-size:6.4px;" >20</text>
<line x1="241.20" y1="341.41" x2="244.00" y2="341.41" stroke="#111" stroke-width="1"/>
<text x="238.80" y="343.61" text-anchor="end" fill="#222" style="font-size:6.4px;" >30</text>
<line x1="241.20" y1="317.58" x2="244.00" y2="317.58" stroke="#111" stroke-width="1"/>
<text x="238.80" y="319.78" text-anchor="end" fill="#222" style="font-size:6.4px;" >40</text>
<line x1="243.40" y1="412.90" x2="351.20" y2="412.90" stroke="#111" stroke-width="1.2"/>
<line x1="257.60" y1="412.90" x2="257.60" y2="415.50" stroke="#111" stroke-width="1"/>
<text x="257.60" y="424.50" text-anchor="middle" fill="#222" style="font-size:6.3px;" >0</text>
<line x1="284.03" y1="412.90" x2="284.03" y2="415.50" stroke="#111" stroke-width="1"/>
<text x="284.03" y="424.50" text-anchor="middle" fill="#222" style="font-size:6.3px;" >3</text>
<line x1="310.46" y1="412.90" x2="310.46" y2="415.50" stroke="#111" stroke-width="1"/>
<text x="310.46" y="424.50" text-anchor="middle" fill="#222" style="font-size:6.3px;" >6</text>
<line x1="336.89" y1="412.90" x2="336.89" y2="415.50" stroke="#111" stroke-width="1"/>
<text x="336.89" y="424.50" text-anchor="middle" fill="#222" style="font-size:6.3px;" >9</text>
<line x1="351.20" y1="412.90" x2="351.20" y2="415.50" stroke="#111" stroke-width="1"/>
<text x="298.44" y="436.30" text-anchor="middle" fill="#222" style="font-size:7.8px;"  textLength="14.6" lengthAdjust="spacingAndGlyphs">Days</text>
<text transform="translate(225.30,363.00) rotate(-90)" text-anchor="middle" fill="#222" style="font-size:7.0px;"  textLength="69.5" lengthAdjust="spacingAndGlyphs">Normalized cell growth</text>
<line x1="248.40" y1="309.40" x2="274.20" y2="309.40" stroke="#2b4f86" stroke-width="1.5"/>
<polygon points="261.90,305.08 265.93,312.42 257.87,312.42" fill="#2b4f86" stroke="#2b4f86" stroke-width="0.6"/>
<text x="278.10" y="311.74" text-anchor="start" fill="#222" style="font-size:6.5px;"  textLength="7.2" lengthAdjust="spacingAndGlyphs">EV</text>
<line x1="248.40" y1="321.00" x2="274.20" y2="321.00" stroke="#2b4f86" stroke-width="1.5" stroke-dasharray="3,1.7"/>
<polygon points="261.90,317.16 265.48,323.69 258.32,323.69" fill="#fff" stroke="#2b4f86" stroke-width="1.25" stroke-linejoin="miter"/>
<text x="278.10" y="323.34" text-anchor="start" fill="#222" style="font-size:6.5px;"  textLength="27.7" lengthAdjust="spacingAndGlyphs">EV+40nM</text>
<line x1="248.40" y1="331.90" x2="274.20" y2="331.90" stroke="#a5122f" stroke-width="1.5"/>
<rect x="258.80" y="328.80" width="6.2" height="6.2" fill="#a5122f"/>
<text x="278.10" y="334.24" text-anchor="start" fill="#222" style="font-size:6.5px;"  textLength="15.8" lengthAdjust="spacingAndGlyphs">WTF1</text>
<line x1="248.40" y1="343.10" x2="274.20" y2="343.10" stroke="#a5122f" stroke-width="1.5" stroke-dasharray="3,1.7"/>
<rect x="259.40" y="340.60" width="5.00" height="5.00" fill="#fff" stroke="#a5122f" stroke-width="1.2"/>
<line x1="261.90" y1="341.30" x2="261.90" y2="344.90" stroke="#a5122f" stroke-width="0.9"/>
<line x1="260.50" y1="341.50" x2="263.30" y2="341.50" stroke="#a5122f" stroke-width="0.9"/>
<line x1="260.50" y1="344.70" x2="263.30" y2="344.70" stroke="#a5122f" stroke-width="0.9"/>
<text x="278.10" y="345.44" text-anchor="start" fill="#222" style="font-size:6.5px;"  textLength="36.9" lengthAdjust="spacingAndGlyphs">WTF1+40nM</text>
<polyline points="257.60,411.71 284.03,401.46 310.46,386.93 336.89,379.30" fill="none" stroke="#2b4f86" stroke-width="1.9" stroke-dasharray="3,1.7"/>
<polygon points="257.60,407.93 261.13,414.35 254.07,414.35" fill="#fff" stroke="#2b4f86" stroke-width="1.25" stroke-linejoin="miter"/>
<polygon points="284.03,397.68 287.56,404.11 280.50,404.11" fill="#fff" stroke="#2b4f86" stroke-width="1.25" stroke-linejoin="miter"/>
<line x1="310.46" y1="382.87" x2="310.46" y2="390.98" stroke="#2b4f86" stroke-width="1.0"/>
<line x1="307.86" y1="382.87" x2="313.06" y2="382.87" stroke="#2b4f86" stroke-width="1.0"/>
<line x1="307.86" y1="390.98" x2="313.06" y2="390.98" stroke="#2b4f86" stroke-width="1.0"/>
<polygon points="310.46,383.15 313.99,389.57 306.93,389.57" fill="#fff" stroke="#2b4f86" stroke-width="1.25" stroke-linejoin="miter"/>
<line x1="336.89" y1="375.01" x2="336.89" y2="383.59" stroke="#2b4f86" stroke-width="1.0"/>
<line x1="334.29" y1="375.01" x2="339.49" y2="375.01" stroke="#2b4f86" stroke-width="1.0"/>
<line x1="334.29" y1="383.59" x2="339.49" y2="383.59" stroke="#2b4f86" stroke-width="1.0"/>
<polygon points="336.89,375.52 340.42,381.95 333.36,381.95" fill="#fff" stroke="#2b4f86" stroke-width="1.25" stroke-linejoin="miter"/>
<polyline points="257.60,411.71 284.03,401.94 310.46,371.20 336.89,361.67" fill="none" stroke="#2b4f86" stroke-width="1.9"/>
<polygon points="257.60,407.51 261.52,414.65 253.68,414.65" fill="#2b4f86" stroke="#2b4f86" stroke-width="0.6"/>
<polygon points="284.03,397.74 287.95,404.88 280.11,404.88" fill="#2b4f86" stroke="#2b4f86" stroke-width="0.6"/>
<polygon points="310.46,367.00 314.38,374.14 306.54,374.14" fill="#2b4f86" stroke="#2b4f86" stroke-width="0.6"/>
<line x1="336.89" y1="356.90" x2="336.89" y2="366.43" stroke="#2b4f86" stroke-width="1.0"/>
<line x1="334.29" y1="356.90" x2="339.49" y2="356.90" stroke="#2b4f86" stroke-width="1.0"/>
<line x1="334.29" y1="366.43" x2="339.49" y2="366.43" stroke="#2b4f86" stroke-width="1.0"/>
<polygon points="336.89,357.47 340.81,364.61 332.97,364.61" fill="#2b4f86" stroke="#2b4f86" stroke-width="0.6"/>
<polyline points="257.60,411.71 284.03,400.27 310.46,370.96 336.89,360.47" fill="none" stroke="#a5122f" stroke-width="1.9" stroke-dasharray="3,1.7"/>
<rect x="255.10" y="409.21" width="5.00" height="5.00" fill="#fff" stroke="#a5122f" stroke-width="1.2"/>
<line x1="257.60" y1="409.91" x2="257.60" y2="413.51" stroke="#a5122f" stroke-width="0.9"/>
<line x1="256.20" y1="410.11" x2="259.00" y2="410.11" stroke="#a5122f" stroke-width="0.9"/>
<line x1="256.20" y1="413.31" x2="259.00" y2="413.31" stroke="#a5122f" stroke-width="0.9"/>
<rect x="281.53" y="397.77" width="5.00" height="5.00" fill="#fff" stroke="#a5122f" stroke-width="1.2"/>
<line x1="284.03" y1="398.47" x2="284.03" y2="402.07" stroke="#a5122f" stroke-width="0.9"/>
<line x1="282.63" y1="398.67" x2="285.43" y2="398.67" stroke="#a5122f" stroke-width="0.9"/>
<line x1="282.63" y1="401.87" x2="285.43" y2="401.87" stroke="#a5122f" stroke-width="0.9"/>
<line x1="310.46" y1="360.24" x2="310.46" y2="381.68" stroke="#a5122f" stroke-width="1.0"/>
<line x1="307.86" y1="360.24" x2="313.06" y2="360.24" stroke="#a5122f" stroke-width="1.0"/>
<line x1="307.86" y1="381.68" x2="313.06" y2="381.68" stroke="#a5122f" stroke-width="1.0"/>
<rect x="307.96" y="368.46" width="5.00" height="5.00" fill="#fff" stroke="#a5122f" stroke-width="1.2"/>
<line x1="310.46" y1="369.16" x2="310.46" y2="372.76" stroke="#a5122f" stroke-width="0.9"/>
<line x1="309.06" y1="369.36" x2="311.86" y2="369.36" stroke="#a5122f" stroke-width="0.9"/>
<line x1="309.06" y1="372.56" x2="311.86" y2="372.56" stroke="#a5122f" stroke-width="0.9"/>
<line x1="336.89" y1="349.75" x2="336.89" y2="371.20" stroke="#a5122f" stroke-width="1.0"/>
<line x1="334.29" y1="349.75" x2="339.49" y2="349.75" stroke="#a5122f" stroke-width="1.0"/>
<line x1="334.29" y1="371.20" x2="339.49" y2="371.20" stroke="#a5122f" stroke-width="1.0"/>
<rect x="334.39" y="357.97" width="5.00" height="5.00" fill="#fff" stroke="#a5122f" stroke-width="1.2"/>
<line x1="336.89" y1="358.67" x2="336.89" y2="362.27" stroke="#a5122f" stroke-width="0.9"/>
<line x1="335.49" y1="358.87" x2="338.29" y2="358.87" stroke="#a5122f" stroke-width="0.9"/>
<line x1="335.49" y1="362.07" x2="338.29" y2="362.07" stroke="#a5122f" stroke-width="0.9"/>
<polyline points="257.60,411.71 284.03,399.08 310.46,365.24 336.89,355.71" fill="none" stroke="#a5122f" stroke-width="1.9"/>
<rect x="254.50" y="408.61" width="6.2" height="6.2" fill="#a5122f"/>
<rect x="280.93" y="395.98" width="6.2" height="6.2" fill="#a5122f"/>
<line x1="310.46" y1="352.13" x2="310.46" y2="378.35" stroke="#a5122f" stroke-width="1.0"/>
<line x1="307.86" y1="352.13" x2="313.06" y2="352.13" stroke="#a5122f" stroke-width="1.0"/>
<line x1="307.86" y1="378.35" x2="313.06" y2="378.35" stroke="#a5122f" stroke-width="1.0"/>
<rect x="307.36" y="362.14" width="6.2" height="6.2" fill="#a5122f"/>
<line x1="336.89" y1="342.60" x2="336.89" y2="362.86" stroke="#a5122f" stroke-width="1.0"/>
<line x1="334.29" y1="342.60" x2="339.49" y2="342.60" stroke="#a5122f" stroke-width="1.0"/>
<line x1="334.29" y1="362.86" x2="339.49" y2="362.86" stroke="#a5122f" stroke-width="1.0"/>
<rect x="333.79" y="352.61" width="6.2" height="6.2" fill="#a5122f"/>
<line x1="341.80" y1="344.00" x2="341.80" y2="363.60" stroke="#3d4a4a" stroke-width="1.0"/>
<polyline points="342.40,354.30 348.00,354.30 348.00,374.80 341.80,374.80" fill="none" stroke="#222" stroke-width="1.0"/>
<circle cx="351.3" cy="359.40" r="0.75" fill="#333"/>
<circle cx="351.3" cy="363.30" r="0.75" fill="#333"/>
<circle cx="351.3" cy="367.20" r="0.75" fill="#333"/>
<circle cx="351.3" cy="371.10" r="0.75" fill="#333"/>
<text x="443.80" y="298.80" text-anchor="middle" fill="#222" style="font-size:8.7px;"  textLength="31.8" lengthAdjust="spacingAndGlyphs">NALM-6</text>
<line x1="388.20" y1="320.50" x2="388.20" y2="413.70" stroke="#111" stroke-width="1.2"/>
<line x1="385.40" y1="413.10" x2="388.20" y2="413.10" stroke="#111" stroke-width="1"/>
<text x="383.00" y="415.30" text-anchor="end" fill="#222" style="font-size:6.4px;" >0</text>
<line x1="385.40" y1="390.70" x2="388.20" y2="390.70" stroke="#111" stroke-width="1"/>
<text x="383.00" y="392.90" text-anchor="end" fill="#222" style="font-size:6.4px;" >10</text>
<line x1="385.40" y1="368.30" x2="388.20" y2="368.30" stroke="#111" stroke-width="1"/>
<text x="383.00" y="370.50" text-anchor="end" fill="#222" style="font-size:6.4px;" >20</text>
<line x1="385.40" y1="345.90" x2="388.20" y2="345.90" stroke="#111" stroke-width="1"/>
<text x="383.00" y="348.10" text-anchor="end" fill="#222" style="font-size:6.4px;" >30</text>
<line x1="385.40" y1="323.50" x2="388.20" y2="323.50" stroke="#111" stroke-width="1"/>
<text x="383.00" y="325.70" text-anchor="end" fill="#222" style="font-size:6.4px;" >40</text>
<line x1="387.60" y1="413.10" x2="498.70" y2="413.10" stroke="#111" stroke-width="1.2"/>
<line x1="400.80" y1="413.10" x2="400.80" y2="415.70" stroke="#111" stroke-width="1"/>
<text x="400.80" y="424.70" text-anchor="middle" fill="#222" style="font-size:6.3px;" >0</text>
<line x1="428.43" y1="413.10" x2="428.43" y2="415.70" stroke="#111" stroke-width="1"/>
<text x="428.43" y="424.70" text-anchor="middle" fill="#222" style="font-size:6.3px;" >3</text>
<line x1="456.06" y1="413.10" x2="456.06" y2="415.70" stroke="#111" stroke-width="1"/>
<text x="456.06" y="424.70" text-anchor="middle" fill="#222" style="font-size:6.3px;" >6</text>
<line x1="483.69" y1="413.10" x2="483.69" y2="415.70" stroke="#111" stroke-width="1"/>
<text x="483.69" y="424.70" text-anchor="middle" fill="#222" style="font-size:6.3px;" >9</text>
<line x1="498.70" y1="413.10" x2="498.70" y2="415.70" stroke="#111" stroke-width="1"/>
<text x="442.25" y="436.50" text-anchor="middle" fill="#222" style="font-size:7.8px;"  textLength="14.6" lengthAdjust="spacingAndGlyphs">Days</text>
<text transform="translate(369.30,363.90) rotate(-90)" text-anchor="middle" fill="#222" style="font-size:7.0px;"  textLength="67.6" lengthAdjust="spacingAndGlyphs">Normalized cell growth</text>
<line x1="394.80" y1="307.80" x2="421.10" y2="307.80" stroke="#2b4f86" stroke-width="1.5"/>
<polygon points="407.80,303.48 411.83,310.82 403.77,310.82" fill="#2b4f86" stroke="#2b4f86" stroke-width="0.6"/>
<text x="424.60" y="310.28" text-anchor="start" fill="#222" style="font-size:6.9px;"  textLength="7.8" lengthAdjust="spacingAndGlyphs">EV</text>
<line x1="394.80" y1="319.00" x2="421.10" y2="319.00" stroke="#2b4f86" stroke-width="1.5" stroke-dasharray="3,1.7"/>
<polygon points="407.80,315.16 411.38,321.69 404.22,321.69" fill="#fff" stroke="#2b4f86" stroke-width="1.25" stroke-linejoin="miter"/>
<text x="424.60" y="321.48" text-anchor="start" fill="#222" style="font-size:6.9px;"  textLength="32.5" lengthAdjust="spacingAndGlyphs">EV+80nM</text>
<line x1="394.80" y1="330.30" x2="421.10" y2="330.30" stroke="#a5122f" stroke-width="1.5"/>
<rect x="404.70" y="327.20" width="6.2" height="6.2" fill="#a5122f"/>
<text x="424.60" y="332.78" text-anchor="start" fill="#222" style="font-size:6.9px;"  textLength="18.2" lengthAdjust="spacingAndGlyphs">WTF1</text>
<line x1="394.80" y1="341.50" x2="421.10" y2="341.50" stroke="#a5122f" stroke-width="1.5" stroke-dasharray="3,1.7"/>
<rect x="405.30" y="339.00" width="5.00" height="5.00" fill="#fff" stroke="#a5122f" stroke-width="1.2"/>
<line x1="407.80" y1="339.70" x2="407.80" y2="343.30" stroke="#a5122f" stroke-width="0.9"/>
<line x1="406.40" y1="339.90" x2="409.20" y2="339.90" stroke="#a5122f" stroke-width="0.9"/>
<line x1="406.40" y1="343.10" x2="409.20" y2="343.10" stroke="#a5122f" stroke-width="0.9"/>
<text x="424.60" y="343.98" text-anchor="start" fill="#222" style="font-size:6.9px;"  textLength="43.6" lengthAdjust="spacingAndGlyphs">WTF1+80nM</text>
<polyline points="400.80,410.86 428.43,405.04 456.06,405.48 483.69,404.81" fill="none" stroke="#2b4f86" stroke-width="1.9" stroke-dasharray="3,1.7"/>
<polygon points="400.80,407.08 404.33,413.51 397.27,413.51" fill="#fff" stroke="#2b4f86" stroke-width="1.25" stroke-linejoin="miter"/>
<polygon points="428.43,401.26 431.96,407.68 424.90,407.68" fill="#fff" stroke="#2b4f86" stroke-width="1.25" stroke-linejoin="miter"/>
<polygon points="456.06,401.70 459.59,408.13 452.53,408.13" fill="#fff" stroke="#2b4f86" stroke-width="1.25" stroke-linejoin="miter"/>
<polygon points="483.69,401.03 487.22,407.46 480.16,407.46" fill="#fff" stroke="#2b4f86" stroke-width="1.25" stroke-linejoin="miter"/>
<polyline points="400.80,410.86 428.43,404.59 456.06,395.40 483.69,381.74" fill="none" stroke="#a5122f" stroke-width="1.9" stroke-dasharray="3,1.7"/>
<rect x="398.30" y="408.36" width="5.00" height="5.00" fill="#fff" stroke="#a5122f" stroke-width="1.2"/>
<line x1="400.80" y1="409.06" x2="400.80" y2="412.66" stroke="#a5122f" stroke-width="0.9"/>
<line x1="399.40" y1="409.26" x2="402.20" y2="409.26" stroke="#a5122f" stroke-width="0.9"/>
<line x1="399.40" y1="412.46" x2="402.20" y2="412.46" stroke="#a5122f" stroke-width="0.9"/>
<rect x="425.93" y="402.09" width="5.00" height="5.00" fill="#fff" stroke="#a5122f" stroke-width="1.2"/>
<line x1="428.43" y1="402.79" x2="428.43" y2="406.39" stroke="#a5122f" stroke-width="0.9"/>
<line x1="427.03" y1="402.99" x2="429.83" y2="402.99" stroke="#a5122f" stroke-width="0.9"/>
<line x1="427.03" y1="406.19" x2="429.83" y2="406.19" stroke="#a5122f" stroke-width="0.9"/>
<rect x="453.56" y="392.90" width="5.00" height="5.00" fill="#fff" stroke="#a5122f" stroke-width="1.2"/>
<line x1="456.06" y1="393.60" x2="456.06" y2="397.20" stroke="#a5122f" stroke-width="0.9"/>
<line x1="454.66" y1="393.80" x2="457.46" y2="393.80" stroke="#a5122f" stroke-width="0.9"/>
<line x1="454.66" y1="397.00" x2="457.46" y2="397.00" stroke="#a5122f" stroke-width="0.9"/>
<line x1="483.69" y1="375.92" x2="483.69" y2="387.56" stroke="#a5122f" stroke-width="1.0"/>
<line x1="481.09" y1="375.92" x2="486.29" y2="375.92" stroke="#a5122f" stroke-width="1.0"/>
<line x1="481.09" y1="387.56" x2="486.29" y2="387.56" stroke="#a5122f" stroke-width="1.0"/>
<rect x="481.19" y="379.24" width="5.00" height="5.00" fill="#fff" stroke="#a5122f" stroke-width="1.2"/>
<line x1="483.69" y1="379.94" x2="483.69" y2="383.54" stroke="#a5122f" stroke-width="0.9"/>
<line x1="482.29" y1="380.14" x2="485.09" y2="380.14" stroke="#a5122f" stroke-width="0.9"/>
<line x1="482.29" y1="383.34" x2="485.09" y2="383.34" stroke="#a5122f" stroke-width="0.9"/>
<polyline points="400.80,410.86 428.43,405.26 456.06,368.30 483.69,353.74" fill="none" stroke="#2b4f86" stroke-width="1.9"/>
<polygon points="400.80,406.66 404.72,413.80 396.88,413.80" fill="#2b4f86" stroke="#2b4f86" stroke-width="0.6"/>
<polygon points="428.43,401.06 432.35,408.20 424.51,408.20" fill="#2b4f86" stroke="#2b4f86" stroke-width="0.6"/>
<line x1="456.06" y1="364.72" x2="456.06" y2="371.88" stroke="#2b4f86" stroke-width="1.0"/>
<line x1="453.46" y1="364.72" x2="458.66" y2="364.72" stroke="#2b4f86" stroke-width="1.0"/>
<line x1="453.46" y1="371.88" x2="458.66" y2="371.88" stroke="#2b4f86" stroke-width="1.0"/>
<polygon points="456.06,364.10 459.98,371.24 452.14,371.24" fill="#2b4f86" stroke="#2b4f86" stroke-width="0.6"/>
<line x1="483.69" y1="347.02" x2="483.69" y2="360.46" stroke="#2b4f86" stroke-width="1.0"/>
<line x1="481.09" y1="347.02" x2="486.29" y2="347.02" stroke="#2b4f86" stroke-width="1.0"/>
<line x1="481.09" y1="360.46" x2="486.29" y2="360.46" stroke="#2b4f86" stroke-width="1.0"/>
<polygon points="483.69,349.54 487.61,356.68 479.77,356.68" fill="#2b4f86" stroke="#2b4f86" stroke-width="0.6"/>
<polyline points="400.80,410.86 428.43,395.18 456.06,369.42 483.69,360.46" fill="none" stroke="#a5122f" stroke-width="1.9"/>
<rect x="397.70" y="407.76" width="6.2" height="6.2" fill="#a5122f"/>
<line x1="428.43" y1="386.22" x2="428.43" y2="404.14" stroke="#a5122f" stroke-width="1.0"/>
<line x1="425.83" y1="386.22" x2="431.03" y2="386.22" stroke="#a5122f" stroke-width="1.0"/>
<line x1="425.83" y1="404.14" x2="431.03" y2="404.14" stroke="#a5122f" stroke-width="1.0"/>
<rect x="425.33" y="392.08" width="6.2" height="6.2" fill="#a5122f"/>
<line x1="456.06" y1="365.84" x2="456.06" y2="373.00" stroke="#a5122f" stroke-width="1.0"/>
<line x1="453.46" y1="365.84" x2="458.66" y2="365.84" stroke="#a5122f" stroke-width="1.0"/>
<line x1="453.46" y1="373.00" x2="458.66" y2="373.00" stroke="#a5122f" stroke-width="1.0"/>
<rect x="452.96" y="366.32" width="6.2" height="6.2" fill="#a5122f"/>
<line x1="483.69" y1="339.18" x2="483.69" y2="381.74" stroke="#a5122f" stroke-width="1.0"/>
<line x1="481.09" y1="339.18" x2="486.29" y2="339.18" stroke="#a5122f" stroke-width="1.0"/>
<line x1="481.09" y1="381.74" x2="486.29" y2="381.74" stroke="#a5122f" stroke-width="1.0"/>
<rect x="480.59" y="357.36" width="6.2" height="6.2" fill="#a5122f"/>
<polyline points="487.30,355.20 489.30,355.20 489.30,375.30 487.30,375.30" fill="none" stroke="#333" stroke-width="0.9"/>
<polyline points="487.30,378.70 489.30,378.70 489.30,398.00 487.30,398.00" fill="none" stroke="#333" stroke-width="0.9"/>
<circle cx="487.6" cy="363.60" r="0.55" fill="#333"/>
<circle cx="487.6" cy="367.30" r="0.55" fill="#333"/>
<circle cx="487.6" cy="371.00" r="0.55" fill="#333"/>
<circle cx="486.4" cy="392" r="0.55" fill="#333"/>
<line x1="494.40" y1="346.80" x2="494.40" y2="360.20" stroke="#333" stroke-width="1.0"/>
<polyline points="494.40,353.50 500.30,353.50 500.30,399.70 493.50,399.70" fill="none" stroke="#222" stroke-width="1.0"/>
<circle cx="497.7" cy="368.00" r="0.75" fill="#333"/>
<circle cx="497.7" cy="372.00" r="0.75" fill="#333"/>
<circle cx="497.7" cy="376.00" r="0.75" fill="#333"/>
<circle cx="497.7" cy="380.00" r="0.75" fill="#333"/>
<rect x="0.00" y="0.00" width="520.00" height="1.45" fill="#000" />
<rect x="0.00" y="0.00" width="1.15" height="446.00" fill="#000" />
<rect x="518.40" y="0.00" width="1.60" height="446.00" fill="#000" />
<rect x="0.00" y="443.90" width="520.00" height="2.10" fill="#000" />
</svg></div></body></html>
